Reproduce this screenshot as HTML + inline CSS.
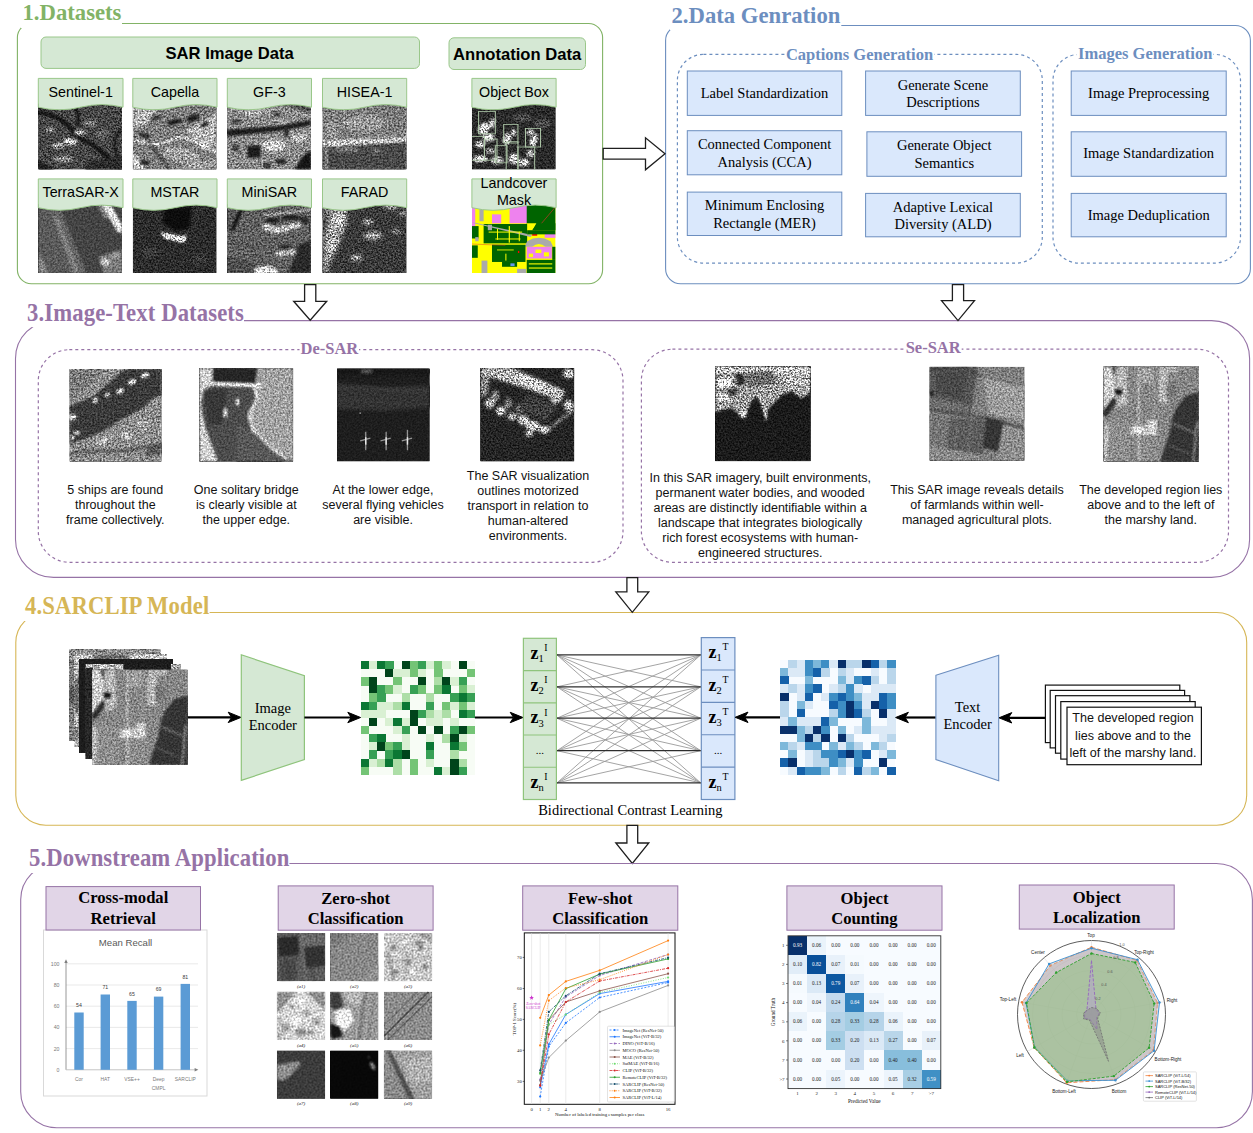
<!DOCTYPE html>
<html><head><meta charset="utf-8"><title>SARCLIP framework</title>
<style>html,body{margin:0;padding:0;background:#fff}svg{display:block}text{white-space:pre}</style>
</head><body>
<svg width="1253" height="1133" viewBox="0 0 1253 1133">
<defs>
<filter id="spk" x="0" y="0" width="1" height="1" color-interpolation-filters="sRGB">
<feTurbulence type="fractalNoise" baseFrequency="0.6" numOctaves="2" seed="7" result="t"/>
<feColorMatrix in="t" type="matrix" values="2.2 0 0 0 -0.6  2.2 0 0 0 -0.6  2.2 0 0 0 -0.6  0 0 0 0 1" result="n"/>
<feComposite operator="arithmetic" in="SourceGraphic" in2="n" k1="1.4" k2="0.3" k3="0" k4="0" result="m"/>
<feGaussianBlur in="m" stdDeviation="0.3"/>
</filter>
<filter id="spm" x="0" y="0" width="1" height="1" color-interpolation-filters="sRGB">
<feTurbulence type="fractalNoise" baseFrequency="0.55" numOctaves="2" seed="11" result="t"/>
<feColorMatrix in="t" type="matrix" values="1.9 0 0 0 -0.45  1.9 0 0 0 -0.45  1.9 0 0 0 -0.45  0 0 0 0 1" result="n"/>
<feComposite operator="arithmetic" in="SourceGraphic" in2="n" k1="1.1" k2="0.45" k3="0" k4="0" result="m"/>
<feGaussianBlur in="m" stdDeviation="0.35"/>
</filter>
<filter id="sps" x="0" y="0" width="1" height="1" color-interpolation-filters="sRGB">
<feTurbulence type="fractalNoise" baseFrequency="0.55" numOctaves="2" seed="5" result="t"/>
<feColorMatrix in="t" type="matrix" values="1.6 0 0 0 -0.3  1.6 0 0 0 -0.3  1.6 0 0 0 -0.3  0 0 0 0 1" result="n"/>
<feComposite operator="arithmetic" in="SourceGraphic" in2="n" k1="0.8" k2="0.6" k3="0" k4="0" result="m"/>
<feGaussianBlur in="m" stdDeviation="0.4"/>
</filter>
<filter id="spc" x="0" y="0" width="1" height="1" color-interpolation-filters="sRGB">
<feTurbulence type="fractalNoise" baseFrequency="0.35" numOctaves="3" seed="3" result="t"/>
<feColorMatrix in="t" type="matrix" values="2.4 0 0 0 -0.7  2.4 0 0 0 -0.7  2.4 0 0 0 -0.7  0 0 0 0 1" result="n"/>
<feComposite operator="arithmetic" in="SourceGraphic" in2="n" k1="1.4" k2="0.3" k3="0" k4="0" result="m"/>
<feGaussianBlur in="m" stdDeviation="0.3"/>
</filter>
<filter id="spz" x="0" y="0" width="1" height="1" color-interpolation-filters="sRGB">
<feTurbulence type="fractalNoise" baseFrequency="0.5" numOctaves="2" seed="9" result="t"/>
<feColorMatrix in="t" type="matrix" values="1.5 0 0 0 -0.25  1.5 0 0 0 -0.25  1.5 0 0 0 -0.25  0 0 0 0 1" result="n"/>
<feComposite operator="arithmetic" in="SourceGraphic" in2="n" k1="0.7" k2="0.65" k3="0" k4="0" result="m"/>
<feGaussianBlur in="m" stdDeviation="0.55"/>
</filter>
<clipPath id="c1"><rect x="38.3" y="103.5" width="83.7" height="65.9"/></clipPath>
<filter id="bl9" x="-0.15" y="-0.15" width="1.3" height="1.3"><feGaussianBlur stdDeviation="1.44"/></filter>
<clipPath id="c2"><rect x="132.8" y="103.5" width="83.7" height="65.9"/></clipPath>
<filter id="bl8" x="-0.15" y="-0.15" width="1.3" height="1.3"><feGaussianBlur stdDeviation="1.28"/></filter>
<clipPath id="c3"><rect x="227.3" y="103.5" width="83.7" height="65.9"/></clipPath>
<clipPath id="c4"><rect x="322.5" y="103.5" width="84" height="65.9"/></clipPath>
<clipPath id="c5"><rect x="471.9" y="103.5" width="83.7" height="65.9"/></clipPath>
<clipPath id="c6"><rect x="38.3" y="204" width="83.7" height="69"/></clipPath>
<clipPath id="c7"><rect x="132.8" y="204" width="83.7" height="69"/></clipPath>
<clipPath id="c8"><rect x="227.3" y="204" width="83.7" height="69"/></clipPath>
<clipPath id="c9"><rect x="322.5" y="204" width="84" height="69"/></clipPath>
<filter id="bl14" x="-0.15" y="-0.15" width="1.3" height="1.3"><feGaussianBlur stdDeviation="2.24"/></filter>
<clipPath id="c10"><rect x="471.9" y="204" width="83.7" height="69"/></clipPath>
<clipPath id="c11"><rect x="69.5" y="368.9" width="92.1" height="92.8"/></clipPath>
<filter id="bl7" x="-0.15" y="-0.15" width="1.3" height="1.3"><feGaussianBlur stdDeviation="1.12"/></filter>
<clipPath id="c12"><rect x="199.2" y="368" width="94" height="93.7"/></clipPath>
<clipPath id="c13"><rect x="337" y="368.4" width="92.7" height="93"/></clipPath>
<filter id="bl10" x="-0.15" y="-0.15" width="1.3" height="1.3"><feGaussianBlur stdDeviation="1.60"/></filter>
<clipPath id="c14"><rect x="480.3" y="368" width="94" height="93.4"/></clipPath>
<clipPath id="c15"><rect x="715.2" y="366.3" width="95.5" height="95"/></clipPath>
<clipPath id="c16"><rect x="929.5" y="366.8" width="95" height="94"/></clipPath>
<clipPath id="c17"><rect x="1103.3" y="366.3" width="95.7" height="95.4"/></clipPath>
<clipPath id="c18"><rect x="69" y="649" width="92" height="92"/></clipPath>
<clipPath id="c19"><rect x="74" y="654" width="93" height="93"/></clipPath>
<clipPath id="c20"><rect x="79" y="659" width="94" height="94"/></clipPath>
<clipPath id="c21"><rect x="85.5" y="664" width="95" height="95"/></clipPath>
<clipPath id="c22"><rect x="92" y="669.4" width="95.7" height="95.6"/></clipPath>
<clipPath id="c23"><rect x="276.9" y="932.9" width="48.3" height="48.3"/></clipPath>
<filter id="bl17" x="-0.15" y="-0.15" width="1.3" height="1.3"><feGaussianBlur stdDeviation="2.72"/></filter>
<clipPath id="c24"><rect x="330.1" y="932.9" width="48.3" height="48.3"/></clipPath>
<filter id="bl30" x="-0.15" y="-0.15" width="1.3" height="1.3"><feGaussianBlur stdDeviation="4.80"/></filter>
<clipPath id="c25"><rect x="383.9" y="932.9" width="48.3" height="48.3"/></clipPath>
<filter id="bl11" x="-0.15" y="-0.15" width="1.3" height="1.3"><feGaussianBlur stdDeviation="1.76"/></filter>
<clipPath id="c26"><rect x="276.9" y="991.8" width="48.3" height="48.3"/></clipPath>
<filter id="bl13" x="-0.15" y="-0.15" width="1.3" height="1.3"><feGaussianBlur stdDeviation="2.08"/></filter>
<clipPath id="c27"><rect x="330.1" y="991.8" width="48.3" height="48.3"/></clipPath>
<clipPath id="c28"><rect x="383.9" y="991.8" width="48.3" height="48.3"/></clipPath>
<clipPath id="c29"><rect x="276.9" y="1050.5" width="48.3" height="48.3"/></clipPath>
<filter id="bl12" x="-0.15" y="-0.15" width="1.3" height="1.3"><feGaussianBlur stdDeviation="1.92"/></filter>
<clipPath id="c30"><rect x="330.1" y="1050.5" width="48.3" height="48.3"/></clipPath>
<clipPath id="c31"><rect x="383.9" y="1050.5" width="48.3" height="48.3"/></clipPath>
</defs>
<rect width="1253" height="1133" fill="#fff"/>
<rect x="17.4" y="23.5" width="585.20" height="260.30" rx="14" ry="14" fill="none" stroke="#82b366" stroke-width="1.1"/>
<rect x="21.0" y="1.3999999999999986" width="101.00" height="26.60" fill="#fff"/>
<text transform="translate(22.5 20.4) scale(1 1.0)" x="0" y="0" font-family='"Liberation Serif", "Times New Roman", serif' font-size="22.7" font-weight="bold" letter-spacing="0" fill="#82b366">1.Datasets</text>
<rect x="41" y="37" width="378.50" height="31.40" rx="5" ry="5" fill="#d5e8d4" stroke="#9ac78a" stroke-width="1"/>
<text x="229.6" y="58.6" font-family='"Liberation Sans", Arial, sans-serif' font-size="16.6" font-weight="bold" fill="#000" text-anchor="middle">SAR Image Data</text>
<rect x="449" y="37.8" width="136.50" height="31.70" rx="5" ry="5" fill="#d5e8d4" stroke="#9ac78a" stroke-width="1"/>
<text x="517.1" y="59.6" font-family='"Liberation Sans", Arial, sans-serif' font-size="16.6" font-weight="bold" fill="#000" text-anchor="middle">Annotation Data</text>
<g filter="url(#spk)"><g clip-path="url(#c1)">
<rect x="38.3" y="103.5" width="83.7" height="65.9" fill="#464646"/>
<g transform="translate(38.3 103.5) scale(0.8370 0.6590)" filter="url(#bl9)">
<path d="M0,14 C18,16 30,24 40,40 S55,56 64,62 S80,80 100,100" fill="none" stroke="#080808" stroke-width="5"/>
<path d="M44,0 C46,14 50,22 46,34" fill="none" stroke="#101010" stroke-width="3.4"/>
<path d="M100,40 C88,50 90,70 96,86" fill="none" stroke="#161616" stroke-width="3"/>
<ellipse cx="38" cy="58" rx="9" ry="5" fill="#c8c8c8" transform="rotate(10 38 58)"/>
<ellipse cx="24" cy="64" rx="8" ry="4" fill="#a8a8a8"/>
<ellipse cx="50" cy="44" rx="6" ry="4" fill="#a8a8a8"/>
<ellipse cx="14" cy="40" rx="6" ry="4" fill="#8a8a8a"/>
<ellipse cx="62" cy="30" rx="8" ry="5" fill="#7c7c7c"/>
<ellipse cx="30" cy="84" rx="12" ry="5" fill="#8a8a8a"/>
<ellipse cx="76" cy="46" rx="8" ry="8" fill="#5e5e5e"/>
<polygon points="0,0 30,0 20,10 0,8" fill="#2c2c2c"/>
<polygon points="0,86 20,100 0,100" fill="#1c1c1c"/>
<polygon points="60,88 100,80 100,100 56,100" fill="#2a2a2a"/>
</g></g></g>
<g filter="url(#spm)"><g clip-path="url(#c2)">
<rect x="132.8" y="103.5" width="83.7" height="65.9" fill="#7e7e7e"/>
<g transform="translate(132.8 103.5) scale(0.8370 0.6590)" filter="url(#bl8)">
<polygon points="0,0 34,0 14,34 0,36" fill="#b4b4b4"/>
<polygon points="64,40 100,16 100,60 84,72" fill="#b8b8b8"/>
<polygon points="66,0 100,0 100,14 84,24" fill="#7a7a7a"/>
<ellipse cx="50" cy="28" rx="10" ry="4" fill="#1e1e1e" transform="rotate(-15 50 28)"/>
<ellipse cx="72" cy="22" rx="9" ry="5" fill="#242424" transform="rotate(-30 72 22)"/>
<ellipse cx="28" cy="22" rx="7" ry="3" fill="#303030" transform="rotate(-20 28 22)"/>
<ellipse cx="14" cy="48" rx="8" ry="3" fill="#2c2c2c" transform="rotate(20 14 48)"/>
<ellipse cx="86" cy="32" rx="6" ry="4" fill="#2a2a2a" transform="rotate(-30 86 32)"/>
<polyline points="0,56 30,62 60,50 100,74" fill="none" stroke="#f0f0f0" stroke-width="2.6"/>
<polyline points="14,50 44,100" fill="none" stroke="#2a2a2a" stroke-width="2.4"/>
<ellipse cx="58" cy="80" rx="22" ry="10" fill="#9e9e9e" transform="rotate(15 58 80)"/>
<path d="M38,72 C50,62 74,70 80,86" fill="none" stroke="#d8d8d8" stroke-width="1.6"/>
<polygon points="0,72 16,100 0,100" fill="#c8c8c8"/>
<ellipse cx="14" cy="90" rx="6" ry="4" fill="#222"/>
<ellipse cx="88" cy="92" rx="10" ry="5" fill="#262626"/>
<polygon points="60,92 100,84 100,100 60,100" fill="#9c9c9c"/>
</g></g></g>
<g filter="url(#spm)"><g clip-path="url(#c3)">
<rect x="227.3" y="103.5" width="83.7" height="65.9" fill="#8a8a8a"/>
<g transform="translate(227.3 103.5) scale(0.8370 0.6590)" filter="url(#bl8)">
<polygon points="0,40 60,34 100,25 100,33 60,42 0,50" fill="#1a1a1a"/>
<rect x="24" y="64" width="16" height="18" fill="#1e1e1e"/>
<rect x="58" y="84" width="12" height="8" fill="#262626"/>
<rect x="68" y="36" width="5" height="14" fill="#262626"/>
<rect x="52" y="14" width="11" height="7" fill="#2c2c2c"/>
<rect x="6" y="24" width="9" height="6" fill="#333"/>
<rect x="6" y="62" width="8" height="10" fill="#3a3a3a"/>
<rect x="44" y="90" width="8" height="8" fill="#333"/>
<ellipse cx="56" cy="64" rx="14" ry="9" fill="#d0d0d0"/>
<ellipse cx="86" cy="52" rx="10" ry="6" fill="#bdbdbd"/>
<ellipse cx="30" cy="14" rx="12" ry="6" fill="#a8a8a8"/>
<polygon points="80,100 90,80 100,70 100,100" fill="#141414"/>
<polygon points="62,0 100,0 100,14" fill="#4a4a4a"/>
<polyline points="30,0 70,30" fill="none" stroke="#c8c8c8" stroke-width="1.6"/>
</g></g></g>
<g filter="url(#spm)"><g clip-path="url(#c4)">
<rect x="322.5" y="103.5" width="84" height="65.9" fill="#7e7e7e"/>
<g transform="translate(322.5 103.5) scale(0.8400 0.6590)" filter="url(#bl9)">
<polygon points="0,62 100,56 100,100 0,100" fill="#484848"/>
<polygon points="0,56 100,51 100,58 0,66" fill="#c8c8c8"/>
<ellipse cx="50" cy="30" rx="26" ry="12" fill="#989898"/>
<ellipse cx="12" cy="40" rx="8" ry="14" fill="#949494"/>
<polygon points="0,0 100,0 100,8 0,12" fill="#747474"/>
<rect x="16" y="68" width="26" height="4" fill="#8c8c8c"/>
<rect x="60" y="70" width="8" height="4" fill="#8a8a8a"/>
<rect x="3" y="50" width="3" height="50" fill="#8a8a8a"/>
<polygon points="70,10 100,6 100,40 84,44" fill="#7a7a7a"/>
</g></g></g>
<g filter="url(#spk)"><g clip-path="url(#c5)">
<rect x="471.9" y="103.5" width="83.7" height="65.9" fill="#2a2a2a"/>
<g transform="translate(471.9 103.5) scale(0.8370 0.6590)" filter="url(#bl9)">
<ellipse cx="14" cy="38" rx="6" ry="9" fill="#e8e8e8" transform="rotate(20 14 38)"/>
<ellipse cx="20" cy="52" rx="7" ry="6" fill="#f4f4f4"/>
<ellipse cx="10" cy="62" rx="6" ry="5" fill="#d0d0d0"/>
<ellipse cx="24" cy="30" rx="4" ry="8" fill="#bdbdbd" transform="rotate(15 24 30)"/>
<ellipse cx="42" cy="54" rx="5" ry="9" fill="#d8d8d8" transform="rotate(10 42 54)"/>
<ellipse cx="50" cy="44" rx="3" ry="6" fill="#aaa"/>
<ellipse cx="74" cy="56" rx="4" ry="10" fill="#e4e4e4" transform="rotate(15 74 56)"/>
<ellipse cx="70" cy="44" rx="4" ry="5" fill="#b4b4b4"/>
<ellipse cx="10" cy="84" rx="9" ry="5" fill="#d4d4d4"/>
<ellipse cx="30" cy="86" rx="7" ry="6" fill="#c4c4c4"/>
<ellipse cx="50" cy="84" rx="6" ry="8" fill="#d0d0d0"/>
<ellipse cx="62" cy="90" rx="7" ry="6" fill="#c8c8c8"/>
<ellipse cx="70" cy="76" rx="5" ry="6" fill="#b0b0b0"/>
<ellipse cx="22" cy="72" rx="6" ry="4" fill="#a0a0a0"/>
<ellipse cx="84" cy="30" rx="10" ry="8" fill="#4a4a4a"/>
<ellipse cx="60" cy="22" rx="12" ry="6" fill="#484848"/>
</g></g></g>
<g clip-path="url(#c5)"><g transform="translate(471.9 103.5) scale(0.8370 0.6590)">
<g fill="none" stroke="#aec8a8" stroke-width="1.2"><rect x="8" y="12" width="20" height="34"/><rect x="38" y="32" width="17" height="28"/><rect x="64" y="38" width="18" height="28"/><rect x="15" y="54" width="15" height="32"/><rect x="41" y="58" width="14" height="42"/><rect x="55" y="66" width="20" height="36"/><rect x="-2" y="50" width="17" height="36"/><rect x="28" y="64" width="14" height="26"/></g>
</g></g>
<path d="M38.3 78.4 L123 78.4 L123 107.2 Q101.825 102.0 80.65 107.2 Q59.474999999999994 112.4 38.3 107.2 Z" fill="#d5e8d4" stroke="#9ac78a" stroke-width="1"/>
<text x="80.65" y="96.9" font-family='"Liberation Sans", Arial, sans-serif' font-size="14.3" font-weight="normal" fill="#000" text-anchor="middle">Sentinel-1</text>
<path d="M132.8 78.4 L217 78.4 L217 107.2 Q195.95 102.0 174.9 107.2 Q153.85000000000002 112.4 132.8 107.2 Z" fill="#d5e8d4" stroke="#9ac78a" stroke-width="1"/>
<text x="174.9" y="96.9" font-family='"Liberation Sans", Arial, sans-serif' font-size="14.3" font-weight="normal" fill="#000" text-anchor="middle">Capella</text>
<path d="M227.3 78.4 L311.5 78.4 L311.5 107.2 Q290.45 102.0 269.4 107.2 Q248.35000000000002 112.4 227.3 107.2 Z" fill="#d5e8d4" stroke="#9ac78a" stroke-width="1"/>
<text x="269.4" y="96.9" font-family='"Liberation Sans", Arial, sans-serif' font-size="14.3" font-weight="normal" fill="#000" text-anchor="middle">GF-3</text>
<path d="M322.5 78.4 L406.7 78.4 L406.7 107.2 Q385.65 102.0 364.6 107.2 Q343.55 112.4 322.5 107.2 Z" fill="#d5e8d4" stroke="#9ac78a" stroke-width="1"/>
<text x="364.6" y="96.9" font-family='"Liberation Sans", Arial, sans-serif' font-size="14.3" font-weight="normal" fill="#000" text-anchor="middle">HISEA-1</text>
<path d="M471.9 78.4 L556.1 78.4 L556.1 107.2 Q535.05 102.0 514.0 107.2 Q492.95 112.4 471.9 107.2 Z" fill="#d5e8d4" stroke="#9ac78a" stroke-width="1"/>
<text x="514.0" y="96.9" font-family='"Liberation Sans", Arial, sans-serif' font-size="14.3" font-weight="normal" fill="#000" text-anchor="middle">Object Box</text>
<g filter="url(#sps)"><g clip-path="url(#c6)">
<rect x="38.3" y="204" width="83.7" height="69" fill="#444444"/>
<g transform="translate(38.3 204) scale(0.8370 0.6900)" filter="url(#bl8)">
<polygon points="0,0 14,0 40,100 0,100" fill="#5a5a5a"/>
<polygon points="14,0 24,0 58,100 40,100" fill="#646464"/>
<polygon points="17,18 23,18 50,100 42,100" fill="#7e7e7e"/>
<polygon points="0,70 12,100 0,100" fill="#8a8a8a"/>
<polygon points="76,0 86,0 100,30 100,42 94,40" fill="#e8e8e8"/>
<polygon points="70,0 76,0 84,20 80,22" fill="#8a8a8a"/>
<polygon points="72,76 100,66 100,100 78,100" fill="#7c7c7c"/>
<ellipse cx="80" cy="84" rx="6" ry="5" fill="#c4c4c4"/>
<ellipse cx="92" cy="74" rx="5" ry="4" fill="#9a9a9a"/>
</g></g></g>
<g filter="url(#spk)"><g clip-path="url(#c7)">
<rect x="132.8" y="204" width="83.7" height="69" fill="#2c2c2c"/>
<g transform="translate(132.8 204) scale(0.8370 0.6900)" filter="url(#bl9)">
<polygon points="38,6 70,4 68,34 52,40 36,28" fill="#0a0a0a"/>
<polygon points="33,41 60,47 64,44 62,56 38,50" fill="#ffffff"/>
<ellipse cx="20" cy="70" rx="10" ry="8" fill="#3a3a3a"/>
<ellipse cx="80" cy="80" rx="10" ry="8" fill="#383838"/>
</g></g></g>
<g filter="url(#spm)"><g clip-path="url(#c8)">
<rect x="227.3" y="204" width="83.7" height="69" fill="#606060"/>
<g transform="translate(227.3 204) scale(0.8370 0.6900)" filter="url(#bl8)">
<polygon points="16,0 22,0 8,40 3,38" fill="#161616"/>
<polygon points="0,0 16,0 3,38 0,40" fill="#565656"/>
<ellipse cx="48" cy="34" rx="6" ry="5" fill="#c8c8c8"/>
<ellipse cx="58" cy="38" rx="6" ry="5" fill="#cecece"/>
<ellipse cx="68" cy="36" rx="6" ry="5" fill="#c8c8c8"/>
<ellipse cx="78" cy="32" rx="6" ry="5" fill="#c4c4c4"/>
<ellipse cx="86" cy="30" rx="5" ry="4" fill="#bbb"/>
<ellipse cx="54" cy="24" rx="9" ry="4" fill="#202020"/>
<ellipse cx="76" cy="20" rx="12" ry="4" fill="#242424"/>
<ellipse cx="92" cy="24" rx="6" ry="6" fill="#2a2a2a"/>
<polyline points="44,16 100,8" fill="none" stroke="#d4d4d4" stroke-width="1.8"/>
<ellipse cx="64" cy="72" rx="6" ry="5" fill="#b8b8b8"/>
<ellipse cx="76" cy="70" rx="6" ry="5" fill="#b4b4b4"/>
<ellipse cx="70" cy="62" rx="8" ry="3.4" fill="#262626"/>
<ellipse cx="46" cy="98" rx="14" ry="8" fill="#e6e6e6"/>
<polygon points="84,60 100,52 100,100 72,100 80,80" fill="#2a2a2a"/>
<polygon points="0,76 34,86 30,100 0,100" fill="#4e4e4e"/>
<polyline points="0,56 40,64" fill="none" stroke="#4a4a4a" stroke-width="1.6"/>
</g></g></g>
<g filter="url(#spk)"><g clip-path="url(#c9)">
<rect x="322.5" y="204" width="84" height="69" fill="#3a3a3a"/>
<g transform="translate(322.5 204) scale(0.8400 0.6900)" filter="url(#bl14)">
<polygon points="10,8 30,2 28,30 20,56 10,84 0,88 2,46" fill="#9c9c9c"/>
<ellipse cx="20" cy="24" rx="6" ry="10" fill="#d0d0d0" transform="rotate(15 20 24)"/>
<ellipse cx="12" cy="60" rx="5" ry="10" fill="#c0c0c0" transform="rotate(15 12 60)"/>
<polygon points="0,0 10,0 6,20 0,24" fill="#6a6a6a"/>
<ellipse cx="54" cy="26" rx="5" ry="4" fill="#b8b8b8"/>
<ellipse cx="60" cy="46" rx="11" ry="6" fill="#a0a0a0"/>
<ellipse cx="40" cy="78" rx="7" ry="5" fill="#9c9c9c"/>
<ellipse cx="88" cy="40" rx="5" ry="3.6" fill="#909090"/>
<ellipse cx="82" cy="4" rx="8" ry="4" fill="#a8a8a8"/>
<ellipse cx="96" cy="14" rx="4" ry="4" fill="#999"/>
<polygon points="0,88 10,84 6,100 0,100" fill="#8c8c8c"/>
</g></g></g>
<g><g clip-path="url(#c10)">
<rect x="471.9" y="204" width="83.7" height="69" fill="#ffff00"/>
<g transform="translate(471.9 204) scale(0.8370 0.6900)">
<rect x="0" y="0" width="4" height="40" fill="#ee82ee"/>
<rect x="9" y="3" width="5" height="22" fill="#aaaaaa"/>
<rect x="24" y="15" width="11" height="13" fill="#ee82ee"/>
<rect x="45" y="0" width="21" height="28" fill="#ee82ee"/>
<rect x="65.5" y="0" width="34.5" height="38" fill="#006400"/>
<polygon points="65.5,28 77,28 70,44 65.5,44" fill="#ffff00"/>
<rect x="14" y="29" width="52" height="28" fill="#006400"/>
<rect x="0" y="32" width="8" height="18" fill="#006400"/>
<rect x="4" y="48" width="4" height="6" fill="#aaaaaa"/>
<rect x="19" y="30" width="5" height="8" fill="#aaaaaa"/>
<polygon points="0,27 4,27 72,45 70,48" fill="#aaaaaa"/>
<polyline points="100,4 72,44" fill="none" stroke="#e03030" stroke-width="0.8"/>
<rect x="72" y="43" width="6" height="3" fill="#ff0000"/>
<rect x="87" y="43" width="13" height="6" fill="#ee82ee"/>
<rect x="66" y="38" width="34" height="6" fill="#006400"/>
<polygon points="78,28 100,28 100,38 72,38" fill="#006400"/>
<path d="M63,62 L66,54 Q80,44 94,54 L97,62 L88,62 Q80,54 72,62 Z" fill="#aaaaaa" stroke="none" stroke-width="0"/>
<rect x="0" y="60" width="7" height="18" fill="#006400"/>
<rect x="24" y="59" width="40" height="25" fill="#006400"/>
<rect x="36" y="84" width="18" height="7" fill="#006400"/>
<rect x="65.5" y="62" width="30" height="17" fill="#ee82ee"/>
<rect x="76" y="66" width="7" height="5" fill="#ffff00"/>
<rect x="86" y="70" width="6" height="6" fill="#ffff00"/>
<rect x="68" y="72" width="5" height="5" fill="#ffff00"/>
<rect x="65.5" y="81" width="34.5" height="19" fill="#006400"/>
<rect x="68" y="86" width="28" height="1.6" fill="#ffff00"/>
<rect x="68" y="92" width="28" height="1.6" fill="#ffff00"/>
<rect x="96" y="62" width="4" height="19" fill="#006400"/>
<rect x="11.5" y="82" width="7" height="18" fill="#aaaaaa"/>
<rect x="54" y="94" width="11" height="6" fill="#aaaaaa"/>
<rect x="46" y="86" width="5" height="4" fill="#6495ed"/>
<rect x="55" y="68" width="1.6" height="3" fill="#ff0000"/>
<polyline points="0,58 40,60" fill="none" stroke="#e03030" stroke-width="0.6"/>
<rect x="20" y="40" width="40" height="1.4" fill="#ffff00"/>
<rect x="28" y="50" width="30" height="1.4" fill="#ffff00"/>
<rect x="44" y="32" width="1.4" height="24" fill="#ffff00"/>
<rect x="30" y="36" width="1.2" height="16" fill="#ffff00"/>
<rect x="56" y="40" width="1.2" height="14" fill="#ffff00"/>
<rect x="30" y="66" width="20" height="1.2" fill="#ffff00"/>
<rect x="40" y="72" width="1.2" height="10" fill="#ffff00"/>
</g></g></g>
<path d="M38.3 178.9 L123 178.9 L123 207.70000000000002 Q101.825 202.50000000000003 80.65 207.70000000000002 Q59.474999999999994 212.9 38.3 207.70000000000002 Z" fill="#d5e8d4" stroke="#9ac78a" stroke-width="1"/>
<text x="80.65" y="197.4" font-family='"Liberation Sans", Arial, sans-serif' font-size="14.3" font-weight="normal" fill="#000" text-anchor="middle">TerraSAR-X</text>
<path d="M132.8 178.9 L217 178.9 L217 207.70000000000002 Q195.95 202.50000000000003 174.9 207.70000000000002 Q153.85000000000002 212.9 132.8 207.70000000000002 Z" fill="#d5e8d4" stroke="#9ac78a" stroke-width="1"/>
<text x="174.9" y="197.4" font-family='"Liberation Sans", Arial, sans-serif' font-size="14.3" font-weight="normal" fill="#000" text-anchor="middle">MSTAR</text>
<path d="M227.3 178.9 L311.5 178.9 L311.5 207.70000000000002 Q290.45 202.50000000000003 269.4 207.70000000000002 Q248.35000000000002 212.9 227.3 207.70000000000002 Z" fill="#d5e8d4" stroke="#9ac78a" stroke-width="1"/>
<text x="269.4" y="197.4" font-family='"Liberation Sans", Arial, sans-serif' font-size="14.3" font-weight="normal" fill="#000" text-anchor="middle">MiniSAR</text>
<path d="M322.5 178.9 L406.7 178.9 L406.7 207.70000000000002 Q385.65 202.50000000000003 364.6 207.70000000000002 Q343.55 212.9 322.5 207.70000000000002 Z" fill="#d5e8d4" stroke="#9ac78a" stroke-width="1"/>
<text x="364.6" y="197.4" font-family='"Liberation Sans", Arial, sans-serif' font-size="14.3" font-weight="normal" fill="#000" text-anchor="middle">FARAD</text>
<path d="M471.9 178.9 L556.1 178.9 L556.1 207.70000000000002 Q535.05 202.50000000000003 514.0 207.70000000000002 Q492.95 212.9 471.9 207.70000000000002 Z" fill="#d5e8d4" stroke="#9ac78a" stroke-width="1"/>
<text x="514.0" y="188.1" font-family='"Liberation Sans", Arial, sans-serif' font-size="14.3" font-weight="normal" fill="#000" text-anchor="middle">Landcover</text>
<text x="514.0" y="205.4" font-family='"Liberation Sans", Arial, sans-serif' font-size="14.3" font-weight="normal" fill="#000" text-anchor="middle">Mask</text>
<rect x="665.6" y="25.5" width="584.80" height="258.30" rx="15" ry="15" fill="none" stroke="#6c8ebf" stroke-width="1.1"/>
<rect x="670.0" y="4" width="171.30" height="26.00" fill="#fff"/>
<text transform="translate(671.5 23) scale(1 1.0)" x="0" y="0" font-family='"Liberation Serif", "Times New Roman", serif' font-size="22.7" font-weight="bold" letter-spacing="0" fill="#6c8ebf">2.Data Genration</text>
<rect x="677.4" y="54.4" width="364.90" height="208.70" rx="26" ry="26" fill="none" stroke="#6c8ebf" stroke-width="1.2" stroke-dasharray="3 3"/>
<rect x="1053" y="54.4" width="187.50" height="208.70" rx="26" ry="26" fill="none" stroke="#6c8ebf" stroke-width="1.2" stroke-dasharray="3 3"/>
<rect x="785" y="46" width="149" height="16" fill="#fff"/>
<text x="859.5" y="60" font-family='"Liberation Serif", "Times New Roman", serif' font-size="16.5" font-weight="bold" fill="#6c8ebf" text-anchor="middle">Captions Generation</text>
<rect x="1076.5" y="46" width="137" height="16" fill="#fff"/>
<text x="1145.2" y="58.8" font-family='"Liberation Serif", "Times New Roman", serif' font-size="16.5" font-weight="bold" fill="#6c8ebf" text-anchor="middle">Images Generation</text>
<rect x="687.3" y="71" width="154.50" height="44.40" fill="#dae8fc" stroke="#6c8ebf" stroke-width="1"/>
<text x="764.55" y="97.60000000000001" font-family='"Liberation Serif", "Times New Roman", serif' font-size="14.5" font-weight="normal" fill="#000" text-anchor="middle">Label Standardization</text>
<rect x="687.3" y="130.7" width="154.50" height="44.10" fill="#dae8fc" stroke="#6c8ebf" stroke-width="1"/>
<text x="764.55" y="149.15" font-family='"Liberation Serif", "Times New Roman", serif' font-size="14.5" font-weight="normal" fill="#000" text-anchor="middle">Connected Component</text>
<text x="764.55" y="166.55" font-family='"Liberation Serif", "Times New Roman", serif' font-size="14.5" font-weight="normal" fill="#000" text-anchor="middle">Analysis (CCA)</text>
<rect x="687.3" y="192.1" width="154.50" height="43.40" fill="#dae8fc" stroke="#6c8ebf" stroke-width="1"/>
<text x="764.55" y="210.20000000000002" font-family='"Liberation Serif", "Times New Roman", serif' font-size="14.5" font-weight="normal" fill="#000" text-anchor="middle">Minimum Enclosing</text>
<text x="764.55" y="227.60000000000002" font-family='"Liberation Serif", "Times New Roman", serif' font-size="14.5" font-weight="normal" fill="#000" text-anchor="middle">Rectangle (MER)</text>
<rect x="865.6" y="71" width="154.70" height="44.40" fill="#dae8fc" stroke="#6c8ebf" stroke-width="1"/>
<text x="942.95" y="89.60000000000001" font-family='"Liberation Serif", "Times New Roman", serif' font-size="14.5" font-weight="normal" fill="#000" text-anchor="middle">Generate Scene</text>
<text x="942.95" y="107.0" font-family='"Liberation Serif", "Times New Roman", serif' font-size="14.5" font-weight="normal" fill="#000" text-anchor="middle">Descriptions</text>
<rect x="866.9" y="131.8" width="154.70" height="44.50" fill="#dae8fc" stroke="#6c8ebf" stroke-width="1"/>
<text x="944.25" y="150.45000000000002" font-family='"Liberation Serif", "Times New Roman", serif' font-size="14.5" font-weight="normal" fill="#000" text-anchor="middle">Generate Object</text>
<text x="944.25" y="167.85000000000002" font-family='"Liberation Serif", "Times New Roman", serif' font-size="14.5" font-weight="normal" fill="#000" text-anchor="middle">Semantics</text>
<rect x="865.6" y="193.4" width="154.70" height="43.40" fill="#dae8fc" stroke="#6c8ebf" stroke-width="1"/>
<text x="942.95" y="211.50000000000003" font-family='"Liberation Serif", "Times New Roman", serif' font-size="14.5" font-weight="normal" fill="#000" text-anchor="middle">Adaptive Lexical</text>
<text x="942.95" y="228.90000000000003" font-family='"Liberation Serif", "Times New Roman", serif' font-size="14.5" font-weight="normal" fill="#000" text-anchor="middle">Diversity (ALD)</text>
<rect x="1071.2" y="71" width="155.00" height="44.40" fill="#dae8fc" stroke="#6c8ebf" stroke-width="1"/>
<text x="1148.7" y="97.60000000000001" font-family='"Liberation Serif", "Times New Roman", serif' font-size="14.5" font-weight="normal" fill="#000" text-anchor="middle">Image Preprocessing</text>
<rect x="1071.2" y="131.8" width="155.00" height="44.50" fill="#dae8fc" stroke="#6c8ebf" stroke-width="1"/>
<text x="1148.7" y="158.45000000000002" font-family='"Liberation Serif", "Times New Roman", serif' font-size="14.5" font-weight="normal" fill="#000" text-anchor="middle">Image Standardization</text>
<rect x="1071.2" y="193.4" width="155.00" height="43.40" fill="#dae8fc" stroke="#6c8ebf" stroke-width="1"/>
<text x="1148.7" y="219.50000000000003" font-family='"Liberation Serif", "Times New Roman", serif' font-size="14.5" font-weight="normal" fill="#000" text-anchor="middle">Image Deduplication</text>
<path d="M603.2 148.4 L645.5 148.4 L645.5 137.8 L665 153.8 L645.5 169.8 L645.5 159.20000000000002 L603.2 159.20000000000002 Z" fill="#fff" stroke="#1e1e1e" stroke-width="1.3" stroke-linejoin="miter"/>
<rect x="15.5" y="320.6" width="1234.10" height="256.80" rx="38" ry="38" fill="none" stroke="#9673a6" stroke-width="1.1"/>
<rect x="25.6" y="301.7" width="218.40" height="25.40" fill="#fff"/>
<text transform="translate(27.1 320.7) scale(1 1.09)" x="0" y="0" font-family='"Liberation Serif", "Times New Roman", serif' font-size="22.7" font-weight="bold" letter-spacing="0.1" fill="#9673a6">3.Image-Text Datasets</text>
<rect x="38.3" y="349.7" width="584.70" height="212.60" rx="31" ry="31" fill="none" stroke="#9673a6" stroke-width="1.2" stroke-dasharray="3 3"/>
<rect x="641.4" y="349.2" width="587.10" height="213.10" rx="31" ry="31" fill="none" stroke="#9673a6" stroke-width="1.2" stroke-dasharray="3 3"/>
<rect x="299.5" y="340" width="59.5" height="16" fill="#fff"/>
<text x="300.5" y="353.5" font-family='"Liberation Serif", "Times New Roman", serif' font-size="16.5" font-weight="bold" fill="#9673a6" text-anchor="start">De-SAR</text>
<rect x="904.7" y="340" width="57" height="16" fill="#fff"/>
<text x="905.7" y="353.2" font-family='"Liberation Serif", "Times New Roman", serif' font-size="16.5" font-weight="bold" fill="#9673a6" text-anchor="start">Se-SAR</text>
<g filter="url(#spm)"><g clip-path="url(#c11)">
<rect x="69.5" y="368.9" width="92.1" height="92.8" fill="#8c8c8c"/>
<g transform="translate(69.5 368.9) scale(0.9210 0.9280)" filter="url(#bl7)">
<polygon points="0,40 25,30 44,14 58,2 62,0 100,0 100,28 90,32 80,42 55,55 35,68 10,78 0,80" fill="#3a3a3a"/>
<polygon points="0,0 40,0 20,20 0,32" fill="#7c7c7c"/>
<ellipse cx="82" cy="7" rx="4" ry="2" fill="#ffffff" transform="rotate(-25 82 7)"/>
<ellipse cx="68" cy="14" rx="4" ry="2" fill="#ffffff" transform="rotate(-25 68 14)"/>
<ellipse cx="55" cy="24" rx="3.5" ry="2" fill="#fff" transform="rotate(-25 55 24)"/>
<ellipse cx="41" cy="28" rx="2.5" ry="1.6" fill="#f4f4f4" transform="rotate(-25 41 28)"/>
<ellipse cx="28" cy="34" rx="2.2" ry="2.6" fill="#eee" transform="rotate(-25 28 34)"/>
<ellipse cx="3" cy="52" rx="4" ry="2.5" fill="#f0f0f0"/>
<ellipse cx="8" cy="69" rx="3" ry="1.6" fill="#eee"/>
<ellipse cx="3" cy="74" rx="2" ry="2" fill="#ddd"/>
<path d="M0,92 C20,86 40,90 60,88 S90,82 100,80" fill="none" stroke="#505050" stroke-width="2.6"/>
<ellipse cx="36" cy="78" rx="7" ry="2.4" fill="#dcdcdc" transform="rotate(-25 36 78)"/>
<ellipse cx="62" cy="72" rx="6" ry="4" fill="#c4c4c4"/>
<ellipse cx="80" cy="60" rx="8" ry="6" fill="#a4a4a4"/>
<polygon points="86,84 100,80 100,92 80,94" fill="#5a5a5a"/>
</g></g></g>
<g filter="url(#sps)"><g clip-path="url(#c12)">
<rect x="199.2" y="368" width="94" height="93.7" fill="#4c4c4c"/>
<g transform="translate(199.2 368) scale(0.9400 0.9370)" filter="url(#bl7)">
<polygon points="0,0 16,0 14,18 4,24 2,40 6,62 20,100 0,100" fill="#cfcfcf"/>
<polygon points="14,0 62,0 60,17 14,16" fill="#262626"/>
<polygon points="4,24 30,22 24,60 10,60" fill="#383838"/>
<polygon points="62,0 100,0 100,100 96,98 76,82 60,66 55,50 64,32 60,18" fill="#a2a2a2"/>
<polygon points="60,18 64,32 55,50 60,66 76,82 96,98 92,98 72,84 56,68 51,50 60,32 56,18" fill="#dadada"/>
<polyline points="12,17 66,19" fill="none" stroke="#f4f4f4" stroke-width="3.6"/>
<ellipse cx="41" cy="36" rx="1.5" ry="4.2" fill="#ffffff"/>
<ellipse cx="28" cy="48" rx="1.5" ry="5" fill="#ffffff"/>
<polygon points="40,60 60,70 80,90 90,100 40,100" fill="#585858"/>
</g></g></g>
<g filter="url(#sps)"><g clip-path="url(#c13)">
<rect x="337" y="368.4" width="92.7" height="93" fill="#1e1e1e"/>
<g transform="translate(337 368.4) scale(0.9270 0.9300)" filter="url(#bl10)">
<polygon points="0,16 50,20 100,18 100,42 50,46 0,44" fill="#303030"/>
<path d="M0,22 C40,16 70,28 100,24" fill="none" stroke="#3c3c3c" stroke-width="2.4"/>
<path d="M0,36 C40,30 70,42 100,38" fill="none" stroke="#383838" stroke-width="2.4"/>
<polygon points="0,0 100,0 100,6 0,8" fill="#161616"/>
<ellipse cx="32" cy="3" rx="6" ry="1.6" fill="#666"/>
</g></g></g>
<g clip-path="url(#c13)"><g transform="translate(337 368.4) scale(0.9270 0.9300)">
<g stroke="#bdbdbd" stroke-width="1.4" fill="none" opacity="0.75"><path d="M31,68 L31,88 M25,78 L36,75"/><path d="M53,68 L53,88 M47,78 L58,75"/><path d="M76,66 L76,88 M70,78 L81,75"/></g>
<g stroke="#f0f0f0" stroke-width="1.6" fill="none" opacity="0.9"><path d="M31,74 L31,82"/><path d="M53,74 L53,82"/><path d="M76,74 L76,82"/></g>
<circle cx="25" cy="48" r="0.9" fill="#999"/>
</g></g>
<g filter="url(#spk)"><g clip-path="url(#c14)">
<rect x="480.3" y="368" width="94" height="93.4" fill="#252525"/>
<g transform="translate(480.3 368) scale(0.9400 0.9340)" filter="url(#bl9)">
<polygon points="2,0 34,0 90,24 86,36 48,22 0,6" fill="#b4b4b4"/>
<polygon points="40,6 70,16 66,24 38,14" fill="#d8d8d8"/>
<polygon points="0,6 10,10 8,28 0,32" fill="#8a8a8a"/>
<ellipse cx="10" cy="38" rx="5" ry="5" fill="#c8c8c8"/>
<ellipse cx="22" cy="46" rx="5" ry="5" fill="#cfcfcf"/>
<ellipse cx="34" cy="52" rx="5" ry="4" fill="#b8b8b8"/>
<ellipse cx="46" cy="56" rx="6" ry="5" fill="#d0d0d0"/>
<ellipse cx="56" cy="62" rx="7" ry="5" fill="#e4e4e4"/>
<ellipse cx="68" cy="66" rx="6" ry="4" fill="#d8d8d8"/>
<ellipse cx="52" cy="70" rx="4" ry="3" fill="#ccc"/>
<ellipse cx="16" cy="30" rx="4" ry="6" fill="#8a8a8a"/>
<ellipse cx="30" cy="38" rx="4" ry="6" fill="#7a7a7a"/>
<ellipse cx="42" cy="44" rx="4" ry="6" fill="#777"/>
<polyline points="72,66 100,44" fill="none" stroke="#9a9a9a" stroke-width="2.4"/>
<ellipse cx="94" cy="40" rx="5" ry="6" fill="#c4c4c4"/>
<ellipse cx="94" cy="6" rx="6" ry="5" fill="#c8c8c8"/>
<ellipse cx="80" cy="34" rx="5" ry="4" fill="#aaa"/>
<polygon points="50,28 84,40 70,58 40,44" fill="#3c3c3c"/>
</g></g></g>
<g filter="url(#spk)"><g clip-path="url(#c15)">
<rect x="715.2" y="366.3" width="95.5" height="95" fill="#1b1b1b"/>
<g transform="translate(715.2 366.3) scale(0.9550 0.9500)" filter="url(#bl8)">
<polygon points="0,0 100,0 100,28 90,34 80,26 70,30 62,38 56,44 53,58 49,40 44,32 38,36 34,46 29,56 24,50 18,44 8,46 0,48" fill="#9c9c9c"/>
<polygon points="0,0 100,0 100,8 0,6" fill="#d0d0d0"/>
<polygon points="30,6 60,4 64,18 34,22" fill="#6a6a6a"/>
<polygon points="70,10 100,6 100,22 76,24" fill="#b8b8b8"/>
<rect x="3" y="13" width="14" height="9" fill="#ffffff"/>
<rect x="3" y="30" width="12" height="6" fill="#f0f0f0"/>
<polygon points="20,8 28,6 32,18 24,22" fill="#2c2c2c"/>
<polygon points="12,24 22,22 24,30 14,32" fill="#3c3c3c"/>
<polyline points="46,30 54,56" fill="none" stroke="#e0e0e0" stroke-width="1.6"/>
<ellipse cx="30" cy="50" rx="3" ry="4" fill="#ddd"/>
</g></g></g>
<g filter="url(#sps)"><g clip-path="url(#c16)">
<rect x="929.5" y="366.8" width="95" height="94" fill="#7e7e7e"/>
<g transform="translate(929.5 366.8) scale(0.9500 0.9400)" filter="url(#bl8)">
<polygon points="0,0 50,0 44,42 0,32" fill="#565656"/>
<polygon points="6,6 40,4 36,36 8,28" fill="#4a4a4a"/>
<polygon points="56,8 100,18 100,58 62,50" fill="#9c9c9c"/>
<polygon points="0,32 44,42 40,56 0,46" fill="#6c6c6c"/>
<polyline points="0,3 40,0" fill="none" stroke="#262626" stroke-width="1.8"/>
<polyline points="40,2 56,10 100,20" fill="none" stroke="#404040" stroke-width="1.4"/>
<polyline points="50,0 42,50" fill="none" stroke="#4a4a4a" stroke-width="1.6"/>
<polygon points="22,54 60,56 56,94 18,88" fill="#5c5c5c"/>
<polygon points="60,54 78,58 72,90 56,86" fill="#343434"/>
<polyline points="0,46 60,54 100,66" fill="none" stroke="#383838" stroke-width="1.6"/>
<polygon points="0,50 22,54 18,88 0,84" fill="#747474"/>
<polygon points="0,84 56,94 56,100 0,100" fill="#8a8a8a"/>
<polygon points="78,62 100,68 100,100 72,100" fill="#8e8e8e"/>
<circle cx="2" cy="28" r="2.4" fill="#0c0c0c"/>
<polyline points="30,56 26,90" fill="none" stroke="#7a7a7a" stroke-width="1.2"/>
<polyline points="44,56 40,92" fill="none" stroke="#7a7a7a" stroke-width="1.2"/>
</g></g></g>
<g filter="url(#sps)"><g clip-path="url(#c17)">
<rect x="1103.3" y="366.3" width="95.7" height="95.4" fill="#868686"/>
<g transform="translate(1103.3 366.3) scale(0.9570 0.9540)" filter="url(#bl7)">
<polygon points="0,0 12,0 12,40 0,46" fill="#d0d0d0"/>
<polygon points="0,46 10,32 15,36 4,52 0,52" fill="#2e2e2e"/>
<polygon points="8,0 14,0 14,10 10,8" fill="#4a4a4a"/>
<polygon points="13,2 24,0 26,40 14,44" fill="#b8b8b8"/>
<ellipse cx="16" cy="27" rx="4.5" ry="3.6" fill="#161616"/>
<polygon points="76,44 86,31 100,27 100,100 60,100 61,94 69,71 72,54" fill="#343434"/>
<polyline points="72,60 96,70" fill="none" stroke="#8c8c8c" stroke-width="1.2"/>
<polyline points="98,58 94,100" fill="none" stroke="#a4a4a4" stroke-width="1.2"/>
<polyline points="68,82 90,92" fill="none" stroke="#6a6a6a" stroke-width="1"/>
<polyline points="37,0 37,100" fill="none" stroke="#e4e4e4" stroke-width="1.2"/>
<polyline points="53,0 53,60" fill="none" stroke="#a8a8a8" stroke-width="1"/>
<rect x="40" y="2" width="11" height="16" fill="#a4a4a4"/>
<rect x="58" y="4" width="9" height="34" fill="#b8b8b8"/>
<rect x="60" y="0" width="18" height="6" fill="#b0b0b0"/>
<rect x="22" y="62" width="34" height="10" fill="#c8c8c8"/>
<rect x="34" y="64" width="5" height="5" fill="#ffffff"/>
<rect x="46" y="56" width="10" height="16" fill="#cfcfcf"/>
<polygon points="0,56 30,60 26,100 0,100" fill="#8e8e8e"/>
<polygon points="0,60 6,62 4,100 0,100" fill="#bcbcbc"/>
<rect x="66" y="18" width="10" height="14" fill="#747474"/>
<polygon points="38,74 60,74 58,100 38,100" fill="#8c8c8c"/>
</g></g></g>
<text x="115.3" y="494.4" font-family='"Liberation Sans", Arial, sans-serif' font-size="12.5" font-weight="normal" fill="#111" text-anchor="middle">5 ships are found</text>
<text x="115.3" y="509.4" font-family='"Liberation Sans", Arial, sans-serif' font-size="12.5" font-weight="normal" fill="#111" text-anchor="middle">throughout the</text>
<text x="115.3" y="524.4" font-family='"Liberation Sans", Arial, sans-serif' font-size="12.5" font-weight="normal" fill="#111" text-anchor="middle">frame collectively.</text>
<text x="246.3" y="494.4" font-family='"Liberation Sans", Arial, sans-serif' font-size="12.5" font-weight="normal" fill="#111" text-anchor="middle">One solitary bridge</text>
<text x="246.3" y="509.4" font-family='"Liberation Sans", Arial, sans-serif' font-size="12.5" font-weight="normal" fill="#111" text-anchor="middle">is clearly visible at</text>
<text x="246.3" y="524.4" font-family='"Liberation Sans", Arial, sans-serif' font-size="12.5" font-weight="normal" fill="#111" text-anchor="middle">the upper edge.</text>
<text x="383" y="494.4" font-family='"Liberation Sans", Arial, sans-serif' font-size="12.5" font-weight="normal" fill="#111" text-anchor="middle">At the lower edge,</text>
<text x="383" y="509.4" font-family='"Liberation Sans", Arial, sans-serif' font-size="12.5" font-weight="normal" fill="#111" text-anchor="middle">several flying vehicles</text>
<text x="383" y="524.4" font-family='"Liberation Sans", Arial, sans-serif' font-size="12.5" font-weight="normal" fill="#111" text-anchor="middle">are visible.</text>
<text x="528" y="479.6" font-family='"Liberation Sans", Arial, sans-serif' font-size="12.5" font-weight="normal" fill="#111" text-anchor="middle">The SAR visualization</text>
<text x="528" y="494.6" font-family='"Liberation Sans", Arial, sans-serif' font-size="12.5" font-weight="normal" fill="#111" text-anchor="middle">outlines motorized</text>
<text x="528" y="509.6" font-family='"Liberation Sans", Arial, sans-serif' font-size="12.5" font-weight="normal" fill="#111" text-anchor="middle">transport in relation to</text>
<text x="528" y="524.6" font-family='"Liberation Sans", Arial, sans-serif' font-size="12.5" font-weight="normal" fill="#111" text-anchor="middle">human-altered</text>
<text x="528" y="539.6" font-family='"Liberation Sans", Arial, sans-serif' font-size="12.5" font-weight="normal" fill="#111" text-anchor="middle">environments.</text>
<text x="760.2" y="482.3" font-family='"Liberation Sans", Arial, sans-serif' font-size="12.5" font-weight="normal" fill="#111" text-anchor="middle">In this SAR imagery, built environments,</text>
<text x="760.2" y="497.15000000000003" font-family='"Liberation Sans", Arial, sans-serif' font-size="12.5" font-weight="normal" fill="#111" text-anchor="middle">permanent water bodies, and wooded</text>
<text x="760.2" y="512.0" font-family='"Liberation Sans", Arial, sans-serif' font-size="12.5" font-weight="normal" fill="#111" text-anchor="middle">areas are distinctly identifiable within a</text>
<text x="760.2" y="526.85" font-family='"Liberation Sans", Arial, sans-serif' font-size="12.5" font-weight="normal" fill="#111" text-anchor="middle">landscape that integrates biologically</text>
<text x="760.2" y="541.7" font-family='"Liberation Sans", Arial, sans-serif' font-size="12.5" font-weight="normal" fill="#111" text-anchor="middle">rich forest ecosystems with human-</text>
<text x="760.2" y="556.55" font-family='"Liberation Sans", Arial, sans-serif' font-size="12.5" font-weight="normal" fill="#111" text-anchor="middle">engineered structures.</text>
<text x="977" y="494.4" font-family='"Liberation Sans", Arial, sans-serif' font-size="12.5" font-weight="normal" fill="#111" text-anchor="middle">This SAR image reveals details</text>
<text x="977" y="509.4" font-family='"Liberation Sans", Arial, sans-serif' font-size="12.5" font-weight="normal" fill="#111" text-anchor="middle">of farmlands within well-</text>
<text x="977" y="524.4" font-family='"Liberation Sans", Arial, sans-serif' font-size="12.5" font-weight="normal" fill="#111" text-anchor="middle">managed agricultural plots.</text>
<text x="1150.8" y="494.4" font-family='"Liberation Sans", Arial, sans-serif' font-size="12.5" font-weight="normal" fill="#111" text-anchor="middle">The developed region lies</text>
<text x="1150.8" y="509.4" font-family='"Liberation Sans", Arial, sans-serif' font-size="12.5" font-weight="normal" fill="#111" text-anchor="middle">above and to the left of</text>
<text x="1150.8" y="524.4" font-family='"Liberation Sans", Arial, sans-serif' font-size="12.5" font-weight="normal" fill="#111" text-anchor="middle">the marshy land.</text>
<path d="M304.59999999999997 284.6 L315.8 284.6 L315.8 301.3 L326.7 301.3 L310.2 320.3 L293.7 301.3 L304.59999999999997 301.3 Z" fill="#fff" stroke="#1e1e1e" stroke-width="1.3" stroke-linejoin="miter"/>
<path d="M952.4 284.6 L963.6 284.6 L963.6 300.6 L974.5 300.6 L958 320.6 L941.5 300.6 L952.4 300.6 Z" fill="#fff" stroke="#1e1e1e" stroke-width="1.3" stroke-linejoin="miter"/>
<rect x="15.8" y="612.5" width="1230.90" height="212.70" rx="30" ry="30" fill="none" stroke="#d6b656" stroke-width="1.1"/>
<rect x="23.5" y="594.6" width="186.10" height="26.40" fill="#fff"/>
<text transform="translate(25 613.6) scale(1 1.07)" x="0" y="0" font-family='"Liberation Serif", "Times New Roman", serif' font-size="22.7" font-weight="bold" letter-spacing="0.1" fill="#d6b656">4.SARCLIP Model</text>
<g filter="url(#spm)"><g clip-path="url(#c18)">
<rect x="69" y="649" width="92" height="92" fill="#888888"/>
<g transform="translate(69 649) scale(0.9200 0.9200)">
<polygon points="0,0 100,0 100,10 0,12" fill="#8c8c8c"/>
<polygon points="0,12 8,12 8,100 0,100" fill="#7a7a7a"/>
<ellipse cx="4" cy="50" rx="4" ry="10" fill="#555"/>
</g></g></g>
<g filter="url(#spm)"><g clip-path="url(#c19)">
<rect x="74" y="654" width="93" height="93" fill="#b0b0b0"/>
<g transform="translate(74 654) scale(0.9300 0.9300)" filter="url(#bl10)">
<polygon points="0,0 100,0 100,8 0,8" fill="#c8c8c8"/>
<polygon points="20,0 60,0 60,8 20,8" fill="#6a6a6a"/>
<ellipse cx="4" cy="44" rx="5" ry="20" fill="#6a6a6a"/>
<ellipse cx="3" cy="86" rx="3" ry="8" fill="#777"/>
</g></g></g>
<g filter="url(#sps)"><g clip-path="url(#c20)">
<rect x="79" y="659" width="94" height="94" fill="#1c1c1c"/>
<g transform="translate(79 659) scale(0.9400 0.9400)">
</g></g></g>
<g filter="url(#spm)"><g clip-path="url(#c21)">
<rect x="85.5" y="664" width="95" height="95" fill="#7a7a7a"/>
<g transform="translate(85.5 664) scale(0.9500 0.9500)">
<polygon points="0,0 40,0 40,6 0,6" fill="#b8b8b8"/>
<polygon points="40,0 90,0 90,6 40,6" fill="#1e1e1e"/>
<polygon points="90,0 100,0 100,6 90,6" fill="#aaa"/>
<polygon points="0,4 8,4 8,100 0,100" fill="#262626"/>
</g></g></g>
<g filter="url(#sps)"><g clip-path="url(#c22)">
<rect x="92" y="669.4" width="95.7" height="95.6" fill="#868686"/>
<g transform="translate(92 669.4) scale(0.9570 0.9560)" filter="url(#bl7)">
<polygon points="0,0 12,0 12,40 0,46" fill="#d0d0d0"/>
<polygon points="0,46 10,32 15,36 4,52 0,52" fill="#2e2e2e"/>
<polygon points="8,0 14,0 14,10 10,8" fill="#4a4a4a"/>
<polygon points="13,2 24,0 26,40 14,44" fill="#b8b8b8"/>
<ellipse cx="16" cy="27" rx="4.5" ry="3.6" fill="#161616"/>
<polygon points="76,44 86,31 100,27 100,100 60,100 61,94 69,71 72,54" fill="#343434"/>
<polyline points="72,60 96,70" fill="none" stroke="#8c8c8c" stroke-width="1.2"/>
<polyline points="98,58 94,100" fill="none" stroke="#a4a4a4" stroke-width="1.2"/>
<polyline points="68,82 90,92" fill="none" stroke="#6a6a6a" stroke-width="1"/>
<polyline points="37,0 37,100" fill="none" stroke="#e4e4e4" stroke-width="1.2"/>
<polyline points="53,0 53,60" fill="none" stroke="#a8a8a8" stroke-width="1"/>
<rect x="40" y="2" width="11" height="16" fill="#a4a4a4"/>
<rect x="58" y="4" width="9" height="34" fill="#b8b8b8"/>
<rect x="60" y="0" width="18" height="6" fill="#b0b0b0"/>
<rect x="22" y="62" width="34" height="10" fill="#c8c8c8"/>
<rect x="34" y="64" width="5" height="5" fill="#ffffff"/>
<rect x="46" y="56" width="10" height="16" fill="#cfcfcf"/>
<polygon points="0,56 30,60 26,100 0,100" fill="#8e8e8e"/>
<polygon points="0,60 6,62 4,100 0,100" fill="#bcbcbc"/>
<rect x="66" y="18" width="10" height="14" fill="#747474"/>
<polygon points="38,74 60,74 58,100 38,100" fill="#8c8c8c"/>
</g></g></g>
<line x1="187.7" y1="717.4" x2="231.6" y2="717.4" stroke="#000" stroke-width="2.2"/>
<path d="M241 717.4 L228.2 712.1999999999999 L231.6 717.4 L228.2 722.6 Z" fill="#000" stroke="#000" stroke-width="1" stroke-linejoin="miter"/>
<polygon points="241.3,654.8 304.4,675.8 304.4,759.5 241.3,780.4" fill="#d5e8d4" stroke="#8fc47c" stroke-width="1.2"/>
<text x="272.8" y="712.8" font-family='"Liberation Serif", "Times New Roman", serif' font-size="14.5" font-weight="normal" fill="#000" text-anchor="middle">Image</text>
<text x="272.8" y="730.1" font-family='"Liberation Serif", "Times New Roman", serif' font-size="14.5" font-weight="normal" fill="#000" text-anchor="middle">Encoder</text>
<line x1="304.4" y1="717.5" x2="351.20000000000005" y2="717.5" stroke="#000" stroke-width="2.2"/>
<path d="M360.6 717.5 L347.8 712.3 L351.20000000000005 717.5 L347.8 722.7 Z" fill="#000" stroke="#000" stroke-width="1" stroke-linejoin="miter"/>
<g shape-rendering="crispEdges">
<rect x="360.9" y="660.9" width="114" height="114" fill="#f7fcf5"/>
<rect x="360.90" y="660.90" width="8.44" height="8.44" fill="#0b7734"/>
<rect x="369.04" y="660.90" width="8.44" height="8.44" fill="#d9f0d3"/>
<rect x="377.19" y="660.90" width="8.44" height="8.44" fill="#0b7734"/>
<rect x="385.33" y="660.90" width="8.44" height="8.44" fill="#37a055"/>
<rect x="401.61" y="660.90" width="8.44" height="8.44" fill="#00441b"/>
<rect x="409.76" y="660.90" width="8.44" height="8.44" fill="#74c476"/>
<rect x="417.90" y="660.90" width="8.44" height="8.44" fill="#37a055"/>
<rect x="426.04" y="660.90" width="8.44" height="8.44" fill="#d9f0d3"/>
<rect x="434.19" y="660.90" width="8.44" height="8.44" fill="#74c476"/>
<rect x="442.33" y="660.90" width="8.44" height="8.44" fill="#d9f0d3"/>
<rect x="458.61" y="660.90" width="8.44" height="8.44" fill="#00441b"/>
<rect x="385.33" y="669.04" width="8.44" height="8.44" fill="#00441b"/>
<rect x="393.47" y="669.04" width="8.44" height="8.44" fill="#d9f0d3"/>
<rect x="401.61" y="669.04" width="8.44" height="8.44" fill="#d9f0d3"/>
<rect x="409.76" y="669.04" width="8.44" height="8.44" fill="#74c476"/>
<rect x="417.90" y="669.04" width="8.44" height="8.44" fill="#d9f0d3"/>
<rect x="434.19" y="669.04" width="8.44" height="8.44" fill="#74c476"/>
<rect x="466.76" y="669.04" width="8.44" height="8.44" fill="#74c476"/>
<rect x="360.90" y="677.19" width="8.44" height="8.44" fill="#74c476"/>
<rect x="369.04" y="677.19" width="8.44" height="8.44" fill="#00441b"/>
<rect x="393.47" y="677.19" width="8.44" height="8.44" fill="#74c476"/>
<rect x="417.90" y="677.19" width="8.44" height="8.44" fill="#00441b"/>
<rect x="434.19" y="677.19" width="8.44" height="8.44" fill="#addea7"/>
<rect x="442.33" y="677.19" width="8.44" height="8.44" fill="#00441b"/>
<rect x="450.47" y="677.19" width="8.44" height="8.44" fill="#d9f0d3"/>
<rect x="458.61" y="677.19" width="8.44" height="8.44" fill="#37a055"/>
<rect x="369.04" y="685.33" width="8.44" height="8.44" fill="#00441b"/>
<rect x="377.19" y="685.33" width="8.44" height="8.44" fill="#37a055"/>
<rect x="385.33" y="685.33" width="8.44" height="8.44" fill="#74c476"/>
<rect x="393.47" y="685.33" width="8.44" height="8.44" fill="#d9f0d3"/>
<rect x="409.76" y="685.33" width="8.44" height="8.44" fill="#37a055"/>
<rect x="417.90" y="685.33" width="8.44" height="8.44" fill="#74c476"/>
<rect x="434.19" y="685.33" width="8.44" height="8.44" fill="#74c476"/>
<rect x="442.33" y="685.33" width="8.44" height="8.44" fill="#0b7734"/>
<rect x="458.61" y="685.33" width="8.44" height="8.44" fill="#74c476"/>
<rect x="466.76" y="685.33" width="8.44" height="8.44" fill="#d9f0d3"/>
<rect x="369.04" y="693.47" width="8.44" height="8.44" fill="#74c476"/>
<rect x="377.19" y="693.47" width="8.44" height="8.44" fill="#37a055"/>
<rect x="401.61" y="693.47" width="8.44" height="8.44" fill="#addea7"/>
<rect x="426.04" y="693.47" width="8.44" height="8.44" fill="#addea7"/>
<rect x="450.47" y="693.47" width="8.44" height="8.44" fill="#37a055"/>
<rect x="458.61" y="693.47" width="8.44" height="8.44" fill="#0b7734"/>
<rect x="466.76" y="693.47" width="8.44" height="8.44" fill="#37a055"/>
<rect x="360.90" y="701.61" width="8.44" height="8.44" fill="#0b7734"/>
<rect x="369.04" y="701.61" width="8.44" height="8.44" fill="#37a055"/>
<rect x="377.19" y="701.61" width="8.44" height="8.44" fill="#d9f0d3"/>
<rect x="385.33" y="701.61" width="8.44" height="8.44" fill="#d9f0d3"/>
<rect x="393.47" y="701.61" width="8.44" height="8.44" fill="#addea7"/>
<rect x="401.61" y="701.61" width="8.44" height="8.44" fill="#0b7734"/>
<rect x="426.04" y="701.61" width="8.44" height="8.44" fill="#37a055"/>
<rect x="442.33" y="701.61" width="8.44" height="8.44" fill="#74c476"/>
<rect x="450.47" y="701.61" width="8.44" height="8.44" fill="#d9f0d3"/>
<rect x="458.61" y="701.61" width="8.44" height="8.44" fill="#74c476"/>
<rect x="466.76" y="701.61" width="8.44" height="8.44" fill="#d9f0d3"/>
<rect x="360.90" y="709.76" width="8.44" height="8.44" fill="#d9f0d3"/>
<rect x="369.04" y="709.76" width="8.44" height="8.44" fill="#d9f0d3"/>
<rect x="377.19" y="709.76" width="8.44" height="8.44" fill="#d9f0d3"/>
<rect x="409.76" y="709.76" width="8.44" height="8.44" fill="#00441b"/>
<rect x="417.90" y="709.76" width="8.44" height="8.44" fill="#37a055"/>
<rect x="426.04" y="709.76" width="8.44" height="8.44" fill="#addea7"/>
<rect x="434.19" y="709.76" width="8.44" height="8.44" fill="#d9f0d3"/>
<rect x="442.33" y="709.76" width="8.44" height="8.44" fill="#addea7"/>
<rect x="458.61" y="709.76" width="8.44" height="8.44" fill="#0b7734"/>
<rect x="466.76" y="709.76" width="8.44" height="8.44" fill="#37a055"/>
<rect x="369.04" y="717.90" width="8.44" height="8.44" fill="#00441b"/>
<rect x="385.33" y="717.90" width="8.44" height="8.44" fill="#d9f0d3"/>
<rect x="393.47" y="717.90" width="8.44" height="8.44" fill="#0b7734"/>
<rect x="401.61" y="717.90" width="8.44" height="8.44" fill="#d9f0d3"/>
<rect x="409.76" y="717.90" width="8.44" height="8.44" fill="#00441b"/>
<rect x="426.04" y="717.90" width="8.44" height="8.44" fill="#d9f0d3"/>
<rect x="434.19" y="717.90" width="8.44" height="8.44" fill="#d9f0d3"/>
<rect x="450.47" y="717.90" width="8.44" height="8.44" fill="#d9f0d3"/>
<rect x="360.90" y="726.04" width="8.44" height="8.44" fill="#74c476"/>
<rect x="393.47" y="726.04" width="8.44" height="8.44" fill="#d9f0d3"/>
<rect x="401.61" y="726.04" width="8.44" height="8.44" fill="#37a055"/>
<rect x="417.90" y="726.04" width="8.44" height="8.44" fill="#00441b"/>
<rect x="434.19" y="726.04" width="8.44" height="8.44" fill="#00441b"/>
<rect x="450.47" y="726.04" width="8.44" height="8.44" fill="#37a055"/>
<rect x="458.61" y="726.04" width="8.44" height="8.44" fill="#00441b"/>
<rect x="466.76" y="726.04" width="8.44" height="8.44" fill="#74c476"/>
<rect x="369.04" y="734.19" width="8.44" height="8.44" fill="#37a055"/>
<rect x="377.19" y="734.19" width="8.44" height="8.44" fill="#0b7734"/>
<rect x="401.61" y="734.19" width="8.44" height="8.44" fill="#d9f0d3"/>
<rect x="426.04" y="734.19" width="8.44" height="8.44" fill="#d9f0d3"/>
<rect x="442.33" y="734.19" width="8.44" height="8.44" fill="#addea7"/>
<rect x="450.47" y="734.19" width="8.44" height="8.44" fill="#00441b"/>
<rect x="458.61" y="734.19" width="8.44" height="8.44" fill="#d9f0d3"/>
<rect x="369.04" y="742.33" width="8.44" height="8.44" fill="#d9f0d3"/>
<rect x="377.19" y="742.33" width="8.44" height="8.44" fill="#00441b"/>
<rect x="385.33" y="742.33" width="8.44" height="8.44" fill="#74c476"/>
<rect x="393.47" y="742.33" width="8.44" height="8.44" fill="#37a055"/>
<rect x="401.61" y="742.33" width="8.44" height="8.44" fill="#d9f0d3"/>
<rect x="426.04" y="742.33" width="8.44" height="8.44" fill="#0b7734"/>
<rect x="450.47" y="742.33" width="8.44" height="8.44" fill="#0b7734"/>
<rect x="458.61" y="742.33" width="8.44" height="8.44" fill="#74c476"/>
<rect x="369.04" y="750.47" width="8.44" height="8.44" fill="#37a055"/>
<rect x="385.33" y="750.47" width="8.44" height="8.44" fill="#37a055"/>
<rect x="393.47" y="750.47" width="8.44" height="8.44" fill="#0b7734"/>
<rect x="401.61" y="750.47" width="8.44" height="8.44" fill="#00441b"/>
<rect x="426.04" y="750.47" width="8.44" height="8.44" fill="#37a055"/>
<rect x="450.47" y="750.47" width="8.44" height="8.44" fill="#addea7"/>
<rect x="360.90" y="758.61" width="8.44" height="8.44" fill="#0b7734"/>
<rect x="369.04" y="758.61" width="8.44" height="8.44" fill="#d9f0d3"/>
<rect x="377.19" y="758.61" width="8.44" height="8.44" fill="#addea7"/>
<rect x="385.33" y="758.61" width="8.44" height="8.44" fill="#0b7734"/>
<rect x="393.47" y="758.61" width="8.44" height="8.44" fill="#addea7"/>
<rect x="409.76" y="758.61" width="8.44" height="8.44" fill="#74c476"/>
<rect x="426.04" y="758.61" width="8.44" height="8.44" fill="#d9f0d3"/>
<rect x="450.47" y="758.61" width="8.44" height="8.44" fill="#00441b"/>
<rect x="458.61" y="758.61" width="8.44" height="8.44" fill="#addea7"/>
<rect x="360.90" y="766.76" width="8.44" height="8.44" fill="#74c476"/>
<rect x="393.47" y="766.76" width="8.44" height="8.44" fill="#addea7"/>
<rect x="409.76" y="766.76" width="8.44" height="8.44" fill="#74c476"/>
<rect x="434.19" y="766.76" width="8.44" height="8.44" fill="#0b7734"/>
<rect x="442.33" y="766.76" width="8.44" height="8.44" fill="#d9f0d3"/>
<rect x="450.47" y="766.76" width="8.44" height="8.44" fill="#00441b"/>
<rect x="458.61" y="766.76" width="8.44" height="8.44" fill="#37a055"/>
</g>
<line x1="474.9" y1="717.5" x2="513.6" y2="717.5" stroke="#000" stroke-width="2.2"/>
<path d="M523 717.5 L510.2 712.3 L513.6 717.5 L510.2 722.7 Z" fill="#000" stroke="#000" stroke-width="1" stroke-linejoin="miter"/>
<rect x="523.4" y="638.3" width="33.00" height="161.20" fill="#d5e8d4" stroke="#8fc47c" stroke-width="1.2"/>
<line x1="523.4" y1="670.54" x2="556.4" y2="670.54" stroke="#8fc47c" stroke-width="1.2"/>
<line x1="523.4" y1="702.78" x2="556.4" y2="702.78" stroke="#8fc47c" stroke-width="1.2"/>
<line x1="523.4" y1="735.02" x2="556.4" y2="735.02" stroke="#8fc47c" stroke-width="1.2"/>
<line x1="523.4" y1="767.26" x2="556.4" y2="767.26" stroke="#8fc47c" stroke-width="1.2"/>
<text x="530.4" y="658.92" font-family='"Liberation Serif", "Times New Roman", serif' font-size="18" fill="#000"><tspan font-weight="bold">z</tspan><tspan font-size="10.5" dy="3.2">1</tspan><tspan font-size="9.8" dy="-11" dx="0.6">I</tspan></text>
<text x="530.4" y="691.16" font-family='"Liberation Serif", "Times New Roman", serif' font-size="18" fill="#000"><tspan font-weight="bold">z</tspan><tspan font-size="10.5" dy="3.2">2</tspan><tspan font-size="9.8" dy="-11" dx="0.6">I</tspan></text>
<text x="530.4" y="723.4" font-family='"Liberation Serif", "Times New Roman", serif' font-size="18" fill="#000"><tspan font-weight="bold">z</tspan><tspan font-size="10.5" dy="3.2">3</tspan><tspan font-size="9.8" dy="-11" dx="0.6">I</tspan></text>
<text x="539.9" y="754.14" font-family='"Liberation Serif", "Times New Roman", serif' font-size="11" font-weight="normal" fill="#000" text-anchor="middle">...</text>
<text x="530.4" y="787.88" font-family='"Liberation Serif", "Times New Roman", serif' font-size="18" fill="#000"><tspan font-weight="bold">z</tspan><tspan font-size="10.5" dy="3.2">n</tspan><tspan font-size="9.8" dy="-11" dx="0.6">I</tspan></text>
<rect x="701.3" y="637.6" width="33.60" height="161.90" fill="#dae8fc" stroke="#6c8ebf" stroke-width="1.2"/>
<line x1="701.3" y1="669.98" x2="734.9" y2="669.98" stroke="#6c8ebf" stroke-width="1.2"/>
<line x1="701.3" y1="702.36" x2="734.9" y2="702.36" stroke="#6c8ebf" stroke-width="1.2"/>
<line x1="701.3" y1="734.74" x2="734.9" y2="734.74" stroke="#6c8ebf" stroke-width="1.2"/>
<line x1="701.3" y1="767.12" x2="734.9" y2="767.12" stroke="#6c8ebf" stroke-width="1.2"/>
<text x="708.5999999999999" y="658.29" font-family='"Liberation Serif", "Times New Roman", serif' font-size="18" fill="#000"><tspan font-weight="bold">z</tspan><tspan font-size="10.5" dy="3.2">1</tspan><tspan font-size="9.8" dy="-11" dx="0.6">T</tspan></text>
<text x="708.5999999999999" y="690.6700000000001" font-family='"Liberation Serif", "Times New Roman", serif' font-size="18" fill="#000"><tspan font-weight="bold">z</tspan><tspan font-size="10.5" dy="3.2">2</tspan><tspan font-size="9.8" dy="-11" dx="0.6">T</tspan></text>
<text x="708.5999999999999" y="723.05" font-family='"Liberation Serif", "Times New Roman", serif' font-size="18" fill="#000"><tspan font-weight="bold">z</tspan><tspan font-size="10.5" dy="3.2">3</tspan><tspan font-size="9.8" dy="-11" dx="0.6">T</tspan></text>
<text x="718.0999999999999" y="753.9300000000001" font-family='"Liberation Serif", "Times New Roman", serif' font-size="11" font-weight="normal" fill="#000" text-anchor="middle">...</text>
<text x="708.5999999999999" y="787.81" font-family='"Liberation Serif", "Times New Roman", serif' font-size="18" fill="#000"><tspan font-weight="bold">z</tspan><tspan font-size="10.5" dy="3.2">n</tspan><tspan font-size="9.8" dy="-11" dx="0.6">T</tspan></text>
<g stroke="#9a9a9a" stroke-width="0.9" fill="none">
<line x1="557" y1="654.9" x2="700.7" y2="686.8"/>
<line x1="557" y1="654.9" x2="700.7" y2="718.2"/>
<line x1="557" y1="654.9" x2="700.7" y2="750.7"/>
<line x1="557" y1="654.9" x2="700.7" y2="782.9"/>
<line x1="557" y1="686.8" x2="700.7" y2="654.9"/>
<line x1="557" y1="686.8" x2="700.7" y2="718.2"/>
<line x1="557" y1="686.8" x2="700.7" y2="750.7"/>
<line x1="557" y1="686.8" x2="700.7" y2="782.9"/>
<line x1="557" y1="718.2" x2="700.7" y2="654.9"/>
<line x1="557" y1="718.2" x2="700.7" y2="686.8"/>
<line x1="557" y1="718.2" x2="700.7" y2="750.7"/>
<line x1="557" y1="718.2" x2="700.7" y2="782.9"/>
<line x1="557" y1="750.7" x2="700.7" y2="654.9"/>
<line x1="557" y1="750.7" x2="700.7" y2="686.8"/>
<line x1="557" y1="750.7" x2="700.7" y2="718.2"/>
<line x1="557" y1="750.7" x2="700.7" y2="782.9"/>
<line x1="557" y1="782.9" x2="700.7" y2="654.9"/>
<line x1="557" y1="782.9" x2="700.7" y2="686.8"/>
<line x1="557" y1="782.9" x2="700.7" y2="718.2"/>
<line x1="557" y1="782.9" x2="700.7" y2="750.7"/>
</g>
<g stroke="#2e2e2e" stroke-width="1.3" fill="none">
<line x1="557" y1="654.9" x2="700.7" y2="654.9"/>
<line x1="557" y1="686.8" x2="700.7" y2="686.8"/>
<line x1="557" y1="718.2" x2="700.7" y2="718.2"/>
<line x1="557" y1="750.7" x2="700.7" y2="750.7"/>
<line x1="557" y1="782.9" x2="700.7" y2="782.9"/>
</g>
<text x="630.4" y="814.6" font-family='"Liberation Serif", "Times New Roman", serif' font-size="14.5" font-weight="normal" fill="#000" text-anchor="middle">Bidirectional Contrast Learning</text>
<line x1="780.2" y1="717.3" x2="744.6" y2="717.3" stroke="#000" stroke-width="2.2"/>
<path d="M735.2 717.3 L748.0 712.0999999999999 L744.6 717.3 L748.0 722.5 Z" fill="#000" stroke="#000" stroke-width="1" stroke-linejoin="miter"/>
<g shape-rendering="crispEdges">
<rect x="780.2" y="659.8" width="115" height="115" fill="#f7fbff"/>
<rect x="788.41" y="659.80" width="8.51" height="8.51" fill="#bad6eb"/>
<rect x="796.63" y="659.80" width="8.51" height="8.51" fill="#dbe9f6"/>
<rect x="804.84" y="659.80" width="8.51" height="8.51" fill="#3e8ec4"/>
<rect x="813.06" y="659.80" width="8.51" height="8.51" fill="#7db8da"/>
<rect x="821.27" y="659.80" width="8.51" height="8.51" fill="#3e8ec4"/>
<rect x="829.49" y="659.80" width="8.51" height="8.51" fill="#dbe9f6"/>
<rect x="837.70" y="659.80" width="8.51" height="8.51" fill="#08306b"/>
<rect x="845.91" y="659.80" width="8.51" height="8.51" fill="#bad6eb"/>
<rect x="854.13" y="659.80" width="8.51" height="8.51" fill="#bad6eb"/>
<rect x="862.34" y="659.80" width="8.51" height="8.51" fill="#08306b"/>
<rect x="870.56" y="659.80" width="8.51" height="8.51" fill="#1561a9"/>
<rect x="878.77" y="659.80" width="8.51" height="8.51" fill="#bad6eb"/>
<rect x="886.99" y="659.80" width="8.51" height="8.51" fill="#3e8ec4"/>
<rect x="780.20" y="668.01" width="8.51" height="8.51" fill="#7db8da"/>
<rect x="788.41" y="668.01" width="8.51" height="8.51" fill="#dbe9f6"/>
<rect x="796.63" y="668.01" width="8.51" height="8.51" fill="#dbe9f6"/>
<rect x="804.84" y="668.01" width="8.51" height="8.51" fill="#3e8ec4"/>
<rect x="813.06" y="668.01" width="8.51" height="8.51" fill="#1561a9"/>
<rect x="821.27" y="668.01" width="8.51" height="8.51" fill="#bad6eb"/>
<rect x="837.70" y="668.01" width="8.51" height="8.51" fill="#bad6eb"/>
<rect x="845.91" y="668.01" width="8.51" height="8.51" fill="#dbe9f6"/>
<rect x="870.56" y="668.01" width="8.51" height="8.51" fill="#dbe9f6"/>
<rect x="886.99" y="668.01" width="8.51" height="8.51" fill="#bad6eb"/>
<rect x="780.20" y="676.23" width="8.51" height="8.51" fill="#1561a9"/>
<rect x="804.84" y="676.23" width="8.51" height="8.51" fill="#7db8da"/>
<rect x="837.70" y="676.23" width="8.51" height="8.51" fill="#7db8da"/>
<rect x="845.91" y="676.23" width="8.51" height="8.51" fill="#dbe9f6"/>
<rect x="854.13" y="676.23" width="8.51" height="8.51" fill="#3e8ec4"/>
<rect x="862.34" y="676.23" width="8.51" height="8.51" fill="#1561a9"/>
<rect x="870.56" y="676.23" width="8.51" height="8.51" fill="#bad6eb"/>
<rect x="886.99" y="676.23" width="8.51" height="8.51" fill="#bad6eb"/>
<rect x="780.20" y="684.44" width="8.51" height="8.51" fill="#dbe9f6"/>
<rect x="788.41" y="684.44" width="8.51" height="8.51" fill="#bad6eb"/>
<rect x="796.63" y="684.44" width="8.51" height="8.51" fill="#dbe9f6"/>
<rect x="804.84" y="684.44" width="8.51" height="8.51" fill="#3e8ec4"/>
<rect x="813.06" y="684.44" width="8.51" height="8.51" fill="#1561a9"/>
<rect x="829.49" y="684.44" width="8.51" height="8.51" fill="#dbe9f6"/>
<rect x="837.70" y="684.44" width="8.51" height="8.51" fill="#bad6eb"/>
<rect x="845.91" y="684.44" width="8.51" height="8.51" fill="#3e8ec4"/>
<rect x="854.13" y="684.44" width="8.51" height="8.51" fill="#dbe9f6"/>
<rect x="870.56" y="684.44" width="8.51" height="8.51" fill="#dbe9f6"/>
<rect x="878.77" y="684.44" width="8.51" height="8.51" fill="#dbe9f6"/>
<rect x="886.99" y="684.44" width="8.51" height="8.51" fill="#dbe9f6"/>
<rect x="780.20" y="692.66" width="8.51" height="8.51" fill="#08306b"/>
<rect x="796.63" y="692.66" width="8.51" height="8.51" fill="#dbe9f6"/>
<rect x="804.84" y="692.66" width="8.51" height="8.51" fill="#1561a9"/>
<rect x="821.27" y="692.66" width="8.51" height="8.51" fill="#dbe9f6"/>
<rect x="829.49" y="692.66" width="8.51" height="8.51" fill="#3e8ec4"/>
<rect x="837.70" y="692.66" width="8.51" height="8.51" fill="#1561a9"/>
<rect x="845.91" y="692.66" width="8.51" height="8.51" fill="#3e8ec4"/>
<rect x="854.13" y="692.66" width="8.51" height="8.51" fill="#7db8da"/>
<rect x="862.34" y="692.66" width="8.51" height="8.51" fill="#dbe9f6"/>
<rect x="870.56" y="692.66" width="8.51" height="8.51" fill="#dbe9f6"/>
<rect x="878.77" y="692.66" width="8.51" height="8.51" fill="#1561a9"/>
<rect x="886.99" y="692.66" width="8.51" height="8.51" fill="#3e8ec4"/>
<rect x="780.20" y="700.87" width="8.51" height="8.51" fill="#bad6eb"/>
<rect x="796.63" y="700.87" width="8.51" height="8.51" fill="#7db8da"/>
<rect x="804.84" y="700.87" width="8.51" height="8.51" fill="#dbe9f6"/>
<rect x="829.49" y="700.87" width="8.51" height="8.51" fill="#1561a9"/>
<rect x="837.70" y="700.87" width="8.51" height="8.51" fill="#3e8ec4"/>
<rect x="845.91" y="700.87" width="8.51" height="8.51" fill="#08306b"/>
<rect x="854.13" y="700.87" width="8.51" height="8.51" fill="#3e8ec4"/>
<rect x="862.34" y="700.87" width="8.51" height="8.51" fill="#dbe9f6"/>
<rect x="870.56" y="700.87" width="8.51" height="8.51" fill="#08306b"/>
<rect x="878.77" y="700.87" width="8.51" height="8.51" fill="#1561a9"/>
<rect x="886.99" y="700.87" width="8.51" height="8.51" fill="#3e8ec4"/>
<rect x="780.20" y="709.09" width="8.51" height="8.51" fill="#bad6eb"/>
<rect x="796.63" y="709.09" width="8.51" height="8.51" fill="#1561a9"/>
<rect x="829.49" y="709.09" width="8.51" height="8.51" fill="#bad6eb"/>
<rect x="837.70" y="709.09" width="8.51" height="8.51" fill="#3e8ec4"/>
<rect x="845.91" y="709.09" width="8.51" height="8.51" fill="#08306b"/>
<rect x="854.13" y="709.09" width="8.51" height="8.51" fill="#1561a9"/>
<rect x="862.34" y="709.09" width="8.51" height="8.51" fill="#bad6eb"/>
<rect x="878.77" y="709.09" width="8.51" height="8.51" fill="#08306b"/>
<rect x="886.99" y="709.09" width="8.51" height="8.51" fill="#dbe9f6"/>
<rect x="780.20" y="717.30" width="8.51" height="8.51" fill="#dbe9f6"/>
<rect x="788.41" y="717.30" width="8.51" height="8.51" fill="#7db8da"/>
<rect x="796.63" y="717.30" width="8.51" height="8.51" fill="#dbe9f6"/>
<rect x="804.84" y="717.30" width="8.51" height="8.51" fill="#dbe9f6"/>
<rect x="813.06" y="717.30" width="8.51" height="8.51" fill="#dbe9f6"/>
<rect x="821.27" y="717.30" width="8.51" height="8.51" fill="#1561a9"/>
<rect x="829.49" y="717.30" width="8.51" height="8.51" fill="#7db8da"/>
<rect x="862.34" y="717.30" width="8.51" height="8.51" fill="#7db8da"/>
<rect x="886.99" y="717.30" width="8.51" height="8.51" fill="#dbe9f6"/>
<rect x="780.20" y="725.51" width="8.51" height="8.51" fill="#08306b"/>
<rect x="788.41" y="725.51" width="8.51" height="8.51" fill="#08306b"/>
<rect x="796.63" y="725.51" width="8.51" height="8.51" fill="#7db8da"/>
<rect x="804.84" y="725.51" width="8.51" height="8.51" fill="#bad6eb"/>
<rect x="813.06" y="725.51" width="8.51" height="8.51" fill="#08306b"/>
<rect x="821.27" y="725.51" width="8.51" height="8.51" fill="#3e8ec4"/>
<rect x="837.70" y="725.51" width="8.51" height="8.51" fill="#7db8da"/>
<rect x="854.13" y="725.51" width="8.51" height="8.51" fill="#dbe9f6"/>
<rect x="862.34" y="725.51" width="8.51" height="8.51" fill="#7db8da"/>
<rect x="870.56" y="725.51" width="8.51" height="8.51" fill="#dbe9f6"/>
<rect x="878.77" y="725.51" width="8.51" height="8.51" fill="#dbe9f6"/>
<rect x="886.99" y="725.51" width="8.51" height="8.51" fill="#dbe9f6"/>
<rect x="796.63" y="733.73" width="8.51" height="8.51" fill="#7db8da"/>
<rect x="804.84" y="733.73" width="8.51" height="8.51" fill="#08306b"/>
<rect x="813.06" y="733.73" width="8.51" height="8.51" fill="#bad6eb"/>
<rect x="821.27" y="733.73" width="8.51" height="8.51" fill="#08306b"/>
<rect x="837.70" y="733.73" width="8.51" height="8.51" fill="#08306b"/>
<rect x="845.91" y="733.73" width="8.51" height="8.51" fill="#bad6eb"/>
<rect x="878.77" y="733.73" width="8.51" height="8.51" fill="#dbe9f6"/>
<rect x="886.99" y="733.73" width="8.51" height="8.51" fill="#bad6eb"/>
<rect x="780.20" y="741.94" width="8.51" height="8.51" fill="#7db8da"/>
<rect x="788.41" y="741.94" width="8.51" height="8.51" fill="#bad6eb"/>
<rect x="796.63" y="741.94" width="8.51" height="8.51" fill="#dbe9f6"/>
<rect x="804.84" y="741.94" width="8.51" height="8.51" fill="#3e8ec4"/>
<rect x="813.06" y="741.94" width="8.51" height="8.51" fill="#3e8ec4"/>
<rect x="829.49" y="741.94" width="8.51" height="8.51" fill="#7db8da"/>
<rect x="837.70" y="741.94" width="8.51" height="8.51" fill="#dbe9f6"/>
<rect x="845.91" y="741.94" width="8.51" height="8.51" fill="#7db8da"/>
<rect x="854.13" y="741.94" width="8.51" height="8.51" fill="#bad6eb"/>
<rect x="870.56" y="741.94" width="8.51" height="8.51" fill="#7db8da"/>
<rect x="878.77" y="741.94" width="8.51" height="8.51" fill="#bad6eb"/>
<rect x="788.41" y="750.16" width="8.51" height="8.51" fill="#7db8da"/>
<rect x="804.84" y="750.16" width="8.51" height="8.51" fill="#dbe9f6"/>
<rect x="813.06" y="750.16" width="8.51" height="8.51" fill="#bad6eb"/>
<rect x="821.27" y="750.16" width="8.51" height="8.51" fill="#3e8ec4"/>
<rect x="829.49" y="750.16" width="8.51" height="8.51" fill="#3e8ec4"/>
<rect x="837.70" y="750.16" width="8.51" height="8.51" fill="#1561a9"/>
<rect x="845.91" y="750.16" width="8.51" height="8.51" fill="#08306b"/>
<rect x="854.13" y="750.16" width="8.51" height="8.51" fill="#3e8ec4"/>
<rect x="862.34" y="750.16" width="8.51" height="8.51" fill="#1561a9"/>
<rect x="878.77" y="750.16" width="8.51" height="8.51" fill="#dbe9f6"/>
<rect x="886.99" y="750.16" width="8.51" height="8.51" fill="#7db8da"/>
<rect x="780.20" y="758.37" width="8.51" height="8.51" fill="#1561a9"/>
<rect x="788.41" y="758.37" width="8.51" height="8.51" fill="#08306b"/>
<rect x="804.84" y="758.37" width="8.51" height="8.51" fill="#dbe9f6"/>
<rect x="813.06" y="758.37" width="8.51" height="8.51" fill="#bad6eb"/>
<rect x="821.27" y="758.37" width="8.51" height="8.51" fill="#bad6eb"/>
<rect x="829.49" y="758.37" width="8.51" height="8.51" fill="#3e8ec4"/>
<rect x="837.70" y="758.37" width="8.51" height="8.51" fill="#7db8da"/>
<rect x="845.91" y="758.37" width="8.51" height="8.51" fill="#dbe9f6"/>
<rect x="854.13" y="758.37" width="8.51" height="8.51" fill="#3e8ec4"/>
<rect x="878.77" y="758.37" width="8.51" height="8.51" fill="#08306b"/>
<rect x="788.41" y="766.59" width="8.51" height="8.51" fill="#dbe9f6"/>
<rect x="796.63" y="766.59" width="8.51" height="8.51" fill="#1561a9"/>
<rect x="804.84" y="766.59" width="8.51" height="8.51" fill="#3e8ec4"/>
<rect x="813.06" y="766.59" width="8.51" height="8.51" fill="#3e8ec4"/>
<rect x="821.27" y="766.59" width="8.51" height="8.51" fill="#7db8da"/>
<rect x="837.70" y="766.59" width="8.51" height="8.51" fill="#bad6eb"/>
<rect x="854.13" y="766.59" width="8.51" height="8.51" fill="#1561a9"/>
<rect x="862.34" y="766.59" width="8.51" height="8.51" fill="#bad6eb"/>
<rect x="870.56" y="766.59" width="8.51" height="8.51" fill="#7db8da"/>
<rect x="886.99" y="766.59" width="8.51" height="8.51" fill="#1561a9"/>
</g>
<line x1="935.9" y1="717.5" x2="905.0" y2="717.5" stroke="#000" stroke-width="2.2"/>
<path d="M895.6 717.5 L908.4 712.3 L905.0 717.5 L908.4 722.7 Z" fill="#000" stroke="#000" stroke-width="1" stroke-linejoin="miter"/>
<polygon points="935.9,675.3 998.7,655.3 998.7,780.8 935.9,759.5" fill="#dae8fc" stroke="#6c8ebf" stroke-width="1.1"/>
<text x="967.6" y="711.7" font-family='"Liberation Serif", "Times New Roman", serif' font-size="14.5" font-weight="normal" fill="#000" text-anchor="middle">Text</text>
<text x="967.6" y="729" font-family='"Liberation Serif", "Times New Roman", serif' font-size="14.5" font-weight="normal" fill="#000" text-anchor="middle">Encoder</text>
<line x1="1045.4" y1="717.8" x2="1008.4" y2="717.8" stroke="#000" stroke-width="2.2"/>
<path d="M999 717.8 L1011.8 712.5999999999999 L1008.4 717.8 L1011.8 723.0 Z" fill="#000" stroke="#000" stroke-width="1" stroke-linejoin="miter"/>
<rect x="1045.4" y="685.1" width="134.4" height="57.5" fill="#fff" stroke="#111" stroke-width="1.2"/>
<rect x="1050.2" y="690.4" width="134.4" height="57.5" fill="#fff" stroke="#111" stroke-width="1.2"/>
<rect x="1055.5" y="695.7" width="134.4" height="57.5" fill="#fff" stroke="#111" stroke-width="1.2"/>
<rect x="1060.8" y="701.6" width="134.4" height="57.5" fill="#fff" stroke="#111" stroke-width="1.2"/>
<rect x="1067" y="707.2" width="134.4" height="57.5" fill="#fff" stroke="#111" stroke-width="1.2"/>
<text x="1133" y="721.8" font-family='"Liberation Sans", Arial, sans-serif' font-size="12.55" font-weight="normal" fill="#111" text-anchor="middle">The developed region</text>
<text x="1133" y="739.5999999999999" font-family='"Liberation Sans", Arial, sans-serif' font-size="12.55" font-weight="normal" fill="#111" text-anchor="middle">lies above and to the</text>
<text x="1133" y="757.4" font-family='"Liberation Sans", Arial, sans-serif' font-size="12.55" font-weight="normal" fill="#111" text-anchor="middle">left of the marshy land.</text>
<path d="M626.9 577.6 L637.6999999999999 577.6 L637.6999999999999 591.8 L648.8 591.8 L632.3 612.3 L615.8 591.8 L626.9 591.8 Z" fill="#fff" stroke="#1e1e1e" stroke-width="1.3" stroke-linejoin="miter"/>
<path d="M626.9 825.4 L637.6999999999999 825.4 L637.6999999999999 843.0 L648.8 843.0 L632.3 863.5 L615.8 843.0 L626.9 843.0 Z" fill="#fff" stroke="#1e1e1e" stroke-width="1.3" stroke-linejoin="miter"/>
<rect x="20.7" y="863.5" width="1231.70" height="264.20" rx="36" ry="36" fill="none" stroke="#9673a6" stroke-width="1.1"/>
<rect x="27.5" y="846.8" width="261.90" height="26.20" fill="#fff"/>
<text transform="translate(29 865.8) scale(1 1.07)" x="0" y="0" font-family='"Liberation Serif", "Times New Roman", serif' font-size="22.7" font-weight="bold" letter-spacing="0.1" fill="#9673a6">5.Downstream Application</text>
<rect x="43.5" y="930" width="163.5" height="166" fill="#fff" stroke="#d9d9d9" stroke-width="1"/>
<rect x="46" y="886.6" width="154.50" height="43.40" fill="#e1d5e7" stroke="#9673a6" stroke-width="1"/>
<text x="123.25" y="903.4" font-family='"Liberation Serif", "Times New Roman", serif' font-size="16.6" font-weight="bold" fill="#000" text-anchor="middle">Cross-modal</text>
<text x="123.25" y="924" font-family='"Liberation Serif", "Times New Roman", serif' font-size="16.6" font-weight="bold" fill="#000" text-anchor="middle">Retrieval</text>
<text x="125.5" y="946" font-family='"Liberation Sans", Arial, sans-serif' font-size="9.6" font-weight="normal" fill="#595959" text-anchor="middle">Mean Recall</text>
<line x1="66" y1="1048.6" x2="198" y2="1048.6" stroke="#e3e3e3" stroke-width="0.8"/>
<line x1="66" y1="1027.4" x2="198" y2="1027.4" stroke="#e3e3e3" stroke-width="0.8"/>
<line x1="66" y1="1006.2" x2="198" y2="1006.2" stroke="#e3e3e3" stroke-width="0.8"/>
<line x1="66" y1="985.0" x2="198" y2="985.0" stroke="#e3e3e3" stroke-width="0.8"/>
<line x1="66" y1="963.8" x2="198" y2="963.8" stroke="#e3e3e3" stroke-width="0.8"/>
<text x="59.5" y="1071.8" font-family='"Liberation Sans", Arial, sans-serif' font-size="5.2" font-weight="normal" fill="#7a7a7a" text-anchor="end">0</text>
<text x="59.5" y="1050.59" font-family='"Liberation Sans", Arial, sans-serif' font-size="5.2" font-weight="normal" fill="#7a7a7a" text-anchor="end">20</text>
<text x="59.5" y="1029.3799999999999" font-family='"Liberation Sans", Arial, sans-serif' font-size="5.2" font-weight="normal" fill="#7a7a7a" text-anchor="end">40</text>
<text x="59.5" y="1008.17" font-family='"Liberation Sans", Arial, sans-serif' font-size="5.2" font-weight="normal" fill="#7a7a7a" text-anchor="end">60</text>
<text x="59.5" y="986.9599999999999" font-family='"Liberation Sans", Arial, sans-serif' font-size="5.2" font-weight="normal" fill="#7a7a7a" text-anchor="end">80</text>
<text x="59.5" y="965.75" font-family='"Liberation Sans", Arial, sans-serif' font-size="5.2" font-weight="normal" fill="#7a7a7a" text-anchor="end">100</text>
<line x1="66" y1="961" x2="66" y2="1069.8" stroke="#7f7f7f" stroke-width="0.8"/>
<path d="M66 959.3 L64.3 963 L67.7 963 Z" fill="#7f7f7f"/>
<line x1="66" y1="1069.8" x2="196" y2="1069.8" stroke="#bdbdbd" stroke-width="0.9"/>
<path d="M198.4 1069.8 L194.6 1068.1 L194.6 1071.5 Z" fill="#7f7f7f"/>
<rect x="74.3" y="1012.5" width="9.4" height="57.3" fill="#5b9bd5"/>
<text x="79.0" y="1007.3329999999999" font-family='"Liberation Sans", Arial, sans-serif' font-size="5.2" font-weight="normal" fill="#404040" text-anchor="middle">54</text>
<text x="79.0" y="1080.8" font-family='"Liberation Sans", Arial, sans-serif' font-size="4.9" font-weight="normal" fill="#7a7a7a" text-anchor="middle">Cor</text>
<rect x="100.6" y="994.5" width="9.4" height="75.3" fill="#5b9bd5"/>
<text x="105.3" y="989.3045" font-family='"Liberation Sans", Arial, sans-serif' font-size="5.2" font-weight="normal" fill="#404040" text-anchor="middle">71</text>
<text x="105.3" y="1080.8" font-family='"Liberation Sans", Arial, sans-serif' font-size="4.9" font-weight="normal" fill="#7a7a7a" text-anchor="middle">HAT</text>
<rect x="127.3" y="1000.9" width="9.4" height="68.9" fill="#5b9bd5"/>
<text x="132.0" y="995.6674999999999" font-family='"Liberation Sans", Arial, sans-serif' font-size="5.2" font-weight="normal" fill="#404040" text-anchor="middle">65</text>
<text x="132.0" y="1080.8" font-family='"Liberation Sans", Arial, sans-serif' font-size="4.9" font-weight="normal" fill="#7a7a7a" text-anchor="middle">VSE++</text>
<rect x="153.9" y="996.6" width="9.4" height="73.2" fill="#5b9bd5"/>
<text x="158.6" y="991.4254999999999" font-family='"Liberation Sans", Arial, sans-serif' font-size="5.2" font-weight="normal" fill="#404040" text-anchor="middle">69</text>
<text x="158.6" y="1080.8" font-family='"Liberation Sans", Arial, sans-serif' font-size="4.9" font-weight="normal" fill="#7a7a7a" text-anchor="middle">Deep</text>
<text x="158.6" y="1089.5" font-family='"Liberation Sans", Arial, sans-serif' font-size="4.9" font-weight="normal" fill="#7a7a7a" text-anchor="middle">CMPL</text>
<rect x="180.6" y="983.9" width="9.4" height="85.9" fill="#5b9bd5"/>
<text x="185.29999999999998" y="978.6995" font-family='"Liberation Sans", Arial, sans-serif' font-size="5.2" font-weight="normal" fill="#404040" text-anchor="middle">81</text>
<text x="185.29999999999998" y="1080.8" font-family='"Liberation Sans", Arial, sans-serif' font-size="4.9" font-weight="normal" fill="#7a7a7a" text-anchor="middle">SARCLIP</text>
<rect x="278.2" y="885.9" width="154.90" height="44.30" fill="#e1d5e7" stroke="#9673a6" stroke-width="1"/>
<text x="355.65" y="903.5" font-family='"Liberation Serif", "Times New Roman", serif' font-size="16.6" font-weight="bold" fill="#000" text-anchor="middle">Zero-shot</text>
<text x="355.65" y="924" font-family='"Liberation Serif", "Times New Roman", serif' font-size="16.6" font-weight="bold" fill="#000" text-anchor="middle">Classification</text>
<g filter="url(#spz)"><g clip-path="url(#c23)">
<rect x="276.9" y="932.9" width="48.3" height="48.3" fill="#5c5c5c"/>
<g transform="translate(276.9 932.9) scale(0.4830 0.4830)" filter="url(#bl17)">
<polygon points="2,10 44,6 46,46 4,50" fill="#2a2a2a"/>
<polygon points="56,30 98,26 100,68 60,72" fill="#303030"/>
<polygon points="6,56 40,52 42,96 8,100" fill="#4a4a4a"/>
<polygon points="44,0 100,0 100,24 50,28" fill="#686868"/>
<polyline points="50,0 60,100" fill="none" stroke="#7c7c7c" stroke-width="2"/>
<polyline points="20,50 28,100" fill="none" stroke="#3a3a3a" stroke-width="3"/>
<polyline points="70,70 76,100" fill="none" stroke="#3c3c3c" stroke-width="3"/>
</g></g></g>
<g filter="url(#spz)"><g clip-path="url(#c24)">
<rect x="330.1" y="932.9" width="48.3" height="48.3" fill="#888888"/>
<g transform="translate(330.1 932.9) scale(0.4830 0.4830)" filter="url(#bl30)">
<polygon points="0,0 46,0 0,34" fill="#767676"/>
<polygon points="60,100 100,60 100,100" fill="#929292"/>
</g></g></g>
<g filter="url(#spz)"><g clip-path="url(#c25)">
<rect x="383.9" y="932.9" width="48.3" height="48.3" fill="#cacaca"/>
<g transform="translate(383.9 932.9) scale(0.4830 0.4830)" filter="url(#bl11)">
<ellipse cx="20" cy="30" rx="6" ry="5" fill="#7a7a7a"/>
<ellipse cx="72" cy="20" rx="8" ry="5" fill="#8a8a8a"/>
<ellipse cx="50" cy="60" rx="6" ry="8" fill="#8c8c8c"/>
<ellipse cx="85" cy="70" rx="6" ry="5" fill="#7a7a7a"/>
<ellipse cx="25" cy="80" rx="7" ry="5" fill="#8a8a8a"/>
<polyline points="8,40 20,100" fill="none" stroke="#5a5a5a" stroke-width="2.6"/>
<polygon points="60,0 100,0 100,20" fill="#a0a0a0"/>
<ellipse cx="76" cy="30" rx="5" ry="6" fill="#777"/>
<polyline points="30,0 50,50 40,100" fill="none" stroke="#8a8a8a" stroke-width="2"/>
<polyline points="0,60 100,50" fill="none" stroke="#9a9a9a" stroke-width="2"/>
<ellipse cx="40" cy="20" rx="4" ry="4" fill="#fff"/>
<ellipse cx="60" cy="80" rx="5" ry="4" fill="#fff"/>
</g></g></g>
<g filter="url(#spz)"><g clip-path="url(#c26)">
<rect x="276.9" y="991.8" width="48.3" height="48.3" fill="#d6d6d6"/>
<g transform="translate(276.9 991.8) scale(0.4830 0.4830)" filter="url(#bl13)">
<polygon points="0,0 40,0 0,46" fill="#8e8e8e"/>
<polygon points="60,0 100,0 100,40 84,22" fill="#8a8a8a"/>
<polygon points="0,50 30,70 10,100 0,100" fill="#bcbcbc"/>
<ellipse cx="50" cy="84" rx="12" ry="8" fill="#8a8a8a"/>
<ellipse cx="82" cy="62" rx="8" ry="6" fill="#999"/>
<ellipse cx="30" cy="30" rx="6" ry="5" fill="#aaa"/>
<ellipse cx="62" cy="44" rx="8" ry="5" fill="#9c9c9c"/>
<ellipse cx="40" cy="60" rx="10" ry="8" fill="#fafafa"/>
<ellipse cx="20" cy="76" rx="6" ry="5" fill="#888"/>
<ellipse cx="70" cy="84" rx="6" ry="5" fill="#8a8a8a"/>
<ellipse cx="50" cy="20" rx="8" ry="6" fill="#fff"/>
</g></g></g>
<g filter="url(#spz)"><g clip-path="url(#c27)">
<rect x="330.1" y="991.8" width="48.3" height="48.3" fill="#9a9a9a"/>
<g transform="translate(330.1 991.8) scale(0.4830 0.4830)" filter="url(#bl13)">
<polygon points="0,0 20,0 28,30 10,40 0,30" fill="#3c3c3c"/>
<polygon points="10,40 40,34 50,60 30,80 12,70" fill="#f4f4f4"/>
<polygon points="0,66 20,70 26,92 6,98 0,90" fill="#161616"/>
<polyline points="72,0 60,100" fill="none" stroke="#585858" stroke-width="3"/>
<polyline points="92,10 78,100" fill="none" stroke="#6a6a6a" stroke-width="2"/>
<polygon points="30,0 70,0 60,30 36,24" fill="#b8b8b8"/>
</g></g></g>
<g filter="url(#spz)"><g clip-path="url(#c28)">
<rect x="383.9" y="991.8" width="48.3" height="48.3" fill="#8c8c8c"/>
<g transform="translate(383.9 991.8) scale(0.4830 0.4830)" filter="url(#bl8)">
<polyline points="0,92 92,0" fill="none" stroke="#4c4c4c" stroke-width="3.4"/>
<polyline points="8,100 100,10" fill="none" stroke="#5c5c5c" stroke-width="2.8"/>
<polyline points="0,70 70,0" fill="none" stroke="#6c6c6c" stroke-width="2.4"/>
</g></g></g>
<g filter="url(#spz)"><g clip-path="url(#c29)">
<rect x="276.9" y="1050.5" width="48.3" height="48.3" fill="#3c3c3c"/>
<g transform="translate(276.9 1050.5) scale(0.4830 0.4830)" filter="url(#bl12)">
<polygon points="0,30 44,22 50,28 28,52 14,62 0,60" fill="#8e8e8e"/>
</g></g></g>
<g filter="url(#spz)"><g clip-path="url(#c30)">
<rect x="330.1" y="1050.5" width="48.3" height="48.3" fill="#080808"/>
<g transform="translate(330.1 1050.5) scale(0.4830 0.4830)" filter="url(#bl12)">
<ellipse cx="88" cy="32" rx="4" ry="9" fill="#8a8a8a" transform="rotate(-30 88 32)"/>
<circle cx="80" cy="14" r="1.6" fill="#888"/>
</g></g></g>
<g filter="url(#spz)"><g clip-path="url(#c31)">
<rect x="383.9" y="1050.5" width="48.3" height="48.3" fill="#a0a0a0"/>
<g transform="translate(383.9 1050.5) scale(0.4830 0.4830)" filter="url(#bl11)">
<polygon points="4,0 14,0 64,100 50,100" fill="#4e4e4e"/>
<polygon points="0,0 4,0 50,100 0,100" fill="#8a8a8a"/>
<polygon points="40,20 100,10 100,60 60,70" fill="#b2b2b2"/>
<circle cx="50" cy="58" r="2" fill="#fff"/>
</g></g></g>
<text x="301.04999999999995" y="987.8" font-family='"Liberation Serif", "Times New Roman", serif' font-size="5" font-weight="normal" fill="#222" text-anchor="middle" font-style="italic">(a1)</text>
<text x="354.25" y="987.8" font-family='"Liberation Serif", "Times New Roman", serif' font-size="5" font-weight="normal" fill="#222" text-anchor="middle" font-style="italic">(a2)</text>
<text x="408.04999999999995" y="987.8" font-family='"Liberation Serif", "Times New Roman", serif' font-size="5" font-weight="normal" fill="#222" text-anchor="middle" font-style="italic">(a3)</text>
<text x="301.04999999999995" y="1046.6999999999998" font-family='"Liberation Serif", "Times New Roman", serif' font-size="5" font-weight="normal" fill="#222" text-anchor="middle" font-style="italic">(a4)</text>
<text x="354.25" y="1046.6999999999998" font-family='"Liberation Serif", "Times New Roman", serif' font-size="5" font-weight="normal" fill="#222" text-anchor="middle" font-style="italic">(a5)</text>
<text x="408.04999999999995" y="1046.6999999999998" font-family='"Liberation Serif", "Times New Roman", serif' font-size="5" font-weight="normal" fill="#222" text-anchor="middle" font-style="italic">(a6)</text>
<text x="301.04999999999995" y="1105.3999999999999" font-family='"Liberation Serif", "Times New Roman", serif' font-size="5" font-weight="normal" fill="#222" text-anchor="middle" font-style="italic">(a7)</text>
<text x="354.25" y="1105.3999999999999" font-family='"Liberation Serif", "Times New Roman", serif' font-size="5" font-weight="normal" fill="#222" text-anchor="middle" font-style="italic">(a8)</text>
<text x="408.04999999999995" y="1105.3999999999999" font-family='"Liberation Serif", "Times New Roman", serif' font-size="5" font-weight="normal" fill="#222" text-anchor="middle" font-style="italic">(a9)</text>
<rect x="522.7" y="885.9" width="155.10" height="44.30" fill="#e1d5e7" stroke="#9673a6" stroke-width="1"/>
<text x="600.25" y="903.5" font-family='"Liberation Serif", "Times New Roman", serif' font-size="16.6" font-weight="bold" fill="#000" text-anchor="middle">Few-shot</text>
<text x="600.25" y="924" font-family='"Liberation Serif", "Times New Roman", serif' font-size="16.6" font-weight="bold" fill="#000" text-anchor="middle">Classification</text>
<rect x="524.3" y="932.9" width="150.7" height="171.4" fill="#fff" stroke="#111" stroke-width="1"/>
<line x1="531.6" y1="933.4" x2="531.6" y2="1103.8" stroke="#e2e2e2" stroke-width="0.7"/>
<text x="531.6" y="1110.7" font-family='"Liberation Serif", "Times New Roman", serif' font-size="4.8" font-weight="normal" fill="#222" text-anchor="middle">0</text>
<line x1="540.2" y1="933.4" x2="540.2" y2="1103.8" stroke="#e2e2e2" stroke-width="0.7"/>
<text x="540.2" y="1110.7" font-family='"Liberation Serif", "Times New Roman", serif' font-size="4.8" font-weight="normal" fill="#222" text-anchor="middle">1</text>
<line x1="548.8" y1="933.4" x2="548.8" y2="1103.8" stroke="#e2e2e2" stroke-width="0.7"/>
<text x="548.8" y="1110.7" font-family='"Liberation Serif", "Times New Roman", serif' font-size="4.8" font-weight="normal" fill="#222" text-anchor="middle">2</text>
<line x1="565.8" y1="933.4" x2="565.8" y2="1103.8" stroke="#e2e2e2" stroke-width="0.7"/>
<text x="565.8" y="1110.7" font-family='"Liberation Serif", "Times New Roman", serif' font-size="4.8" font-weight="normal" fill="#222" text-anchor="middle">4</text>
<line x1="599.7" y1="933.4" x2="599.7" y2="1103.8" stroke="#e2e2e2" stroke-width="0.7"/>
<text x="599.7" y="1110.7" font-family='"Liberation Serif", "Times New Roman", serif' font-size="4.8" font-weight="normal" fill="#222" text-anchor="middle">8</text>
<line x1="668.1" y1="933.4" x2="668.1" y2="1103.8" stroke="#e2e2e2" stroke-width="0.7"/>
<text x="668.1" y="1110.7" font-family='"Liberation Serif", "Times New Roman", serif' font-size="4.8" font-weight="normal" fill="#222" text-anchor="middle">16</text>
<text x="521.6999999999999" y="959.0" font-family='"Liberation Serif", "Times New Roman", serif' font-size="4.6" font-weight="normal" fill="#222" text-anchor="end">70</text>
<line x1="522.6999999999999" y1="957.4" x2="524.3" y2="957.4" stroke="#111" stroke-width="0.6"/>
<text x="521.6999999999999" y="990.1" font-family='"Liberation Serif", "Times New Roman", serif' font-size="4.6" font-weight="normal" fill="#222" text-anchor="end">60</text>
<line x1="522.6999999999999" y1="988.5" x2="524.3" y2="988.5" stroke="#111" stroke-width="0.6"/>
<text x="521.6999999999999" y="1021.0" font-family='"Liberation Serif", "Times New Roman", serif' font-size="4.6" font-weight="normal" fill="#222" text-anchor="end">50</text>
<line x1="522.6999999999999" y1="1019.4" x2="524.3" y2="1019.4" stroke="#111" stroke-width="0.6"/>
<text x="521.6999999999999" y="1051.8999999999999" font-family='"Liberation Serif", "Times New Roman", serif' font-size="4.6" font-weight="normal" fill="#222" text-anchor="end">40</text>
<line x1="522.6999999999999" y1="1050.3" x2="524.3" y2="1050.3" stroke="#111" stroke-width="0.6"/>
<text x="521.6999999999999" y="1083.0" font-family='"Liberation Serif", "Times New Roman", serif' font-size="4.6" font-weight="normal" fill="#222" text-anchor="end">30</text>
<line x1="522.6999999999999" y1="1081.4" x2="524.3" y2="1081.4" stroke="#111" stroke-width="0.6"/>
<polyline points="540.2,1096.6 548.8,1046.5 565.8,1022.9 599.7,997.5 668.1,982.5" fill="none" stroke="#1f77ff" stroke-width="0.8" stroke-dasharray="2 1.5"/>
<circle cx="540.2" cy="1096.6" r="1.1" fill="#1f77ff"/>
<circle cx="548.8" cy="1046.5" r="1.1" fill="#1f77ff"/>
<circle cx="565.8" cy="1022.9" r="1.1" fill="#1f77ff"/>
<circle cx="599.7" cy="997.5" r="1.1" fill="#1f77ff"/>
<circle cx="668.1" cy="982.5" r="1.1" fill="#1f77ff"/>
<polyline points="540.2,1087.3 548.8,1044.3 565.8,1014.5 599.7,993.6 668.1,981.4" fill="none" stroke="#1f77ff" stroke-width="0.8"/>
<circle cx="540.2" cy="1087.3" r="1.1" fill="#1f77ff"/>
<circle cx="548.8" cy="1044.3" r="1.1" fill="#1f77ff"/>
<circle cx="565.8" cy="1014.5" r="1.1" fill="#1f77ff"/>
<circle cx="599.7" cy="993.6" r="1.1" fill="#1f77ff"/>
<circle cx="668.1" cy="981.4" r="1.1" fill="#1f77ff"/>
<polyline points="540.2,1079.6 548.8,1024.5 565.8,996.9 599.7,975.5 668.1,954.5" fill="none" stroke="#9467bd" stroke-width="0.8" stroke-dasharray="3 1.5"/>
<circle cx="540.2" cy="1079.6" r="1.1" fill="#9467bd"/>
<circle cx="548.8" cy="1024.5" r="1.1" fill="#9467bd"/>
<circle cx="565.8" cy="996.9" r="1.1" fill="#9467bd"/>
<circle cx="599.7" cy="975.5" r="1.1" fill="#9467bd"/>
<circle cx="668.1" cy="954.5" r="1.1" fill="#9467bd"/>
<polyline points="540.2,1080.7 548.8,1057.6 565.8,1040.6 599.7,1011.9 668.1,985.4" fill="none" stroke="#8c8c8c" stroke-width="0.8"/>
<circle cx="540.2" cy="1080.7" r="1.1" fill="#8c8c8c"/>
<circle cx="548.8" cy="1057.6" r="1.1" fill="#8c8c8c"/>
<circle cx="565.8" cy="1040.6" r="1.1" fill="#8c8c8c"/>
<circle cx="599.7" cy="1011.9" r="1.1" fill="#8c8c8c"/>
<circle cx="668.1" cy="985.4" r="1.1" fill="#8c8c8c"/>
<polyline points="540.2,1085 548.8,1020 565.8,1002 599.7,990.9 668.1,973.7" fill="none" stroke="#8c564b" stroke-width="0.8"/>
<circle cx="540.2" cy="1085" r="1.1" fill="#8c564b"/>
<circle cx="548.8" cy="1020" r="1.1" fill="#8c564b"/>
<circle cx="565.8" cy="1002" r="1.1" fill="#8c564b"/>
<circle cx="599.7" cy="990.9" r="1.1" fill="#8c564b"/>
<circle cx="668.1" cy="973.7" r="1.1" fill="#8c564b"/>
<polyline points="540.2,1074 548.8,1024.5 565.8,1014.5 599.7,992.5 668.1,977.5" fill="none" stroke="#6fdc6f" stroke-width="0.8" stroke-dasharray="1 1.5"/>
<circle cx="540.2" cy="1074" r="1.1" fill="#6fdc6f"/>
<circle cx="548.8" cy="1024.5" r="1.1" fill="#6fdc6f"/>
<circle cx="565.8" cy="1014.5" r="1.1" fill="#6fdc6f"/>
<circle cx="599.7" cy="992.5" r="1.1" fill="#6fdc6f"/>
<circle cx="668.1" cy="977.5" r="1.1" fill="#6fdc6f"/>
<polyline points="540.2,1085.8 548.8,1034.4 565.8,1002 599.7,981 668.1,968.2" fill="none" stroke="#d62728" stroke-width="0.8" stroke-dasharray="3 1 1 1"/>
<circle cx="540.2" cy="1085.8" r="1.1" fill="#d62728"/>
<circle cx="548.8" cy="1034.4" r="1.1" fill="#d62728"/>
<circle cx="565.8" cy="1002" r="1.1" fill="#d62728"/>
<circle cx="599.7" cy="981" r="1.1" fill="#d62728"/>
<circle cx="668.1" cy="968.2" r="1.1" fill="#d62728"/>
<polyline points="540.2,1073 548.8,1020 565.8,988.7 599.7,974.1 668.1,958.9" fill="none" stroke="#2ca02c" stroke-width="0.8"/>
<circle cx="540.2" cy="1073" r="1.1" fill="#2ca02c"/>
<circle cx="548.8" cy="1020" r="1.1" fill="#2ca02c"/>
<circle cx="565.8" cy="988.7" r="1.1" fill="#2ca02c"/>
<circle cx="599.7" cy="974.1" r="1.1" fill="#2ca02c"/>
<circle cx="668.1" cy="958.9" r="1.1" fill="#2ca02c"/>
<polyline points="540.2,1070.4 548.8,1011.9 565.8,995.8 599.7,973.7 668.1,957.6" fill="none" stroke="#17506e" stroke-width="0.8" stroke-dasharray="3 1 1 1"/>
<circle cx="540.2" cy="1070.4" r="1.1" fill="#17506e"/>
<circle cx="548.8" cy="1011.9" r="1.1" fill="#17506e"/>
<circle cx="565.8" cy="995.8" r="1.1" fill="#17506e"/>
<circle cx="599.7" cy="973.7" r="1.1" fill="#17506e"/>
<circle cx="668.1" cy="957.6" r="1.1" fill="#17506e"/>
<polyline points="540.2,1045.4 548.8,1000.6 565.8,988 599.7,979.7 668.1,954.5" fill="none" stroke="#ff7f0e" stroke-width="0.8" stroke-dasharray="1 1.2"/>
<circle cx="540.2" cy="1045.4" r="1.1" fill="#ff7f0e"/>
<circle cx="548.8" cy="1000.6" r="1.1" fill="#ff7f0e"/>
<circle cx="565.8" cy="988" r="1.1" fill="#ff7f0e"/>
<circle cx="599.7" cy="979.7" r="1.1" fill="#ff7f0e"/>
<circle cx="668.1" cy="954.5" r="1.1" fill="#ff7f0e"/>
<polyline points="540.2,1017.8 548.8,995.1 565.8,981.4 599.7,970.4 668.1,940.6" fill="none" stroke="#ff7f0e" stroke-width="0.8"/>
<circle cx="540.2" cy="1017.8" r="1.1" fill="#ff7f0e"/>
<circle cx="548.8" cy="995.1" r="1.1" fill="#ff7f0e"/>
<circle cx="565.8" cy="981.4" r="1.1" fill="#ff7f0e"/>
<circle cx="599.7" cy="970.4" r="1.1" fill="#ff7f0e"/>
<circle cx="668.1" cy="940.6" r="1.1" fill="#ff7f0e"/>
<path d="M531.6 995.3 L532.3 997 L534 997 L532.6 998.1 L533.1 999.8 L531.6 998.8 L530.1 999.8 L530.6 998.1 L529.2 997 L530.9 997 Z" fill="#cc33cc"/>
<text x="533.2" y="1004.6" font-family='"Liberation Serif", "Times New Roman", serif' font-size="3.6" font-weight="normal" fill="#cc33cc" text-anchor="middle">Zero-shot</text>
<text x="533.2" y="1008.9" font-family='"Liberation Serif", "Times New Roman", serif' font-size="3.6" font-weight="normal" fill="#cc33cc" text-anchor="middle">SARCLIP</text>
<rect x="607.5" y="1026.2" width="66.8" height="75.8" rx="1" fill="#fff" stroke="#d0d0d0" stroke-width="0.6"/>
<line x1="609.5" y1="1030.00" x2="620" y2="1030.00" stroke="#1f77ff" stroke-width="0.8" stroke-dasharray="2 1.5"/>
<circle cx="614.7" cy="1030.00" r="1" fill="#1f77ff"/>
<text x="622.5" y="1031.5" font-family='"Liberation Serif", "Times New Roman", serif' font-size="4.5" font-weight="normal" fill="#111" text-anchor="start">ImageNet (ResNet-50)</text>
<line x1="609.5" y1="1036.75" x2="620" y2="1036.75" stroke="#1f77ff" stroke-width="0.8"/>
<circle cx="614.7" cy="1036.75" r="1" fill="#1f77ff"/>
<text x="622.5" y="1038.25" font-family='"Liberation Serif", "Times New Roman", serif' font-size="4.5" font-weight="normal" fill="#111" text-anchor="start">ImageNet (ViT-B/32)</text>
<line x1="609.5" y1="1043.50" x2="620" y2="1043.50" stroke="#9467bd" stroke-width="0.8" stroke-dasharray="3 1.5"/>
<circle cx="614.7" cy="1043.50" r="1" fill="#9467bd"/>
<text x="622.5" y="1045.0" font-family='"Liberation Serif", "Times New Roman", serif' font-size="4.5" font-weight="normal" fill="#111" text-anchor="start">DINO (ViT-B/16)</text>
<line x1="609.5" y1="1050.25" x2="620" y2="1050.25" stroke="#8c8c8c" stroke-width="0.8"/>
<circle cx="614.7" cy="1050.25" r="1" fill="#8c8c8c"/>
<text x="622.5" y="1051.75" font-family='"Liberation Serif", "Times New Roman", serif' font-size="4.5" font-weight="normal" fill="#111" text-anchor="start">MOCO (ResNet-50)</text>
<line x1="609.5" y1="1057.00" x2="620" y2="1057.00" stroke="#8c564b" stroke-width="0.8"/>
<circle cx="614.7" cy="1057.00" r="1" fill="#8c564b"/>
<text x="622.5" y="1058.5" font-family='"Liberation Serif", "Times New Roman", serif' font-size="4.5" font-weight="normal" fill="#111" text-anchor="start">MAE (ViT-B/32)</text>
<line x1="609.5" y1="1063.75" x2="620" y2="1063.75" stroke="#6fdc6f" stroke-width="0.8" stroke-dasharray="1 1.5"/>
<circle cx="614.7" cy="1063.75" r="1" fill="#6fdc6f"/>
<text x="622.5" y="1065.25" font-family='"Liberation Serif", "Times New Roman", serif' font-size="4.5" font-weight="normal" fill="#111" text-anchor="start">SatMAE (ViT-B/16)</text>
<line x1="609.5" y1="1070.50" x2="620" y2="1070.50" stroke="#d62728" stroke-width="0.8" stroke-dasharray="3 1 1 1"/>
<circle cx="614.7" cy="1070.50" r="1" fill="#d62728"/>
<text x="622.5" y="1072.0" font-family='"Liberation Serif", "Times New Roman", serif' font-size="4.5" font-weight="normal" fill="#111" text-anchor="start">CLIP (ViT-B/32)</text>
<line x1="609.5" y1="1077.25" x2="620" y2="1077.25" stroke="#2ca02c" stroke-width="0.8"/>
<circle cx="614.7" cy="1077.25" r="1" fill="#2ca02c"/>
<text x="622.5" y="1078.75" font-family='"Liberation Serif", "Times New Roman", serif' font-size="4.5" font-weight="normal" fill="#111" text-anchor="start">RemoteCLIP (ViT-B/32)</text>
<line x1="609.5" y1="1084.00" x2="620" y2="1084.00" stroke="#17506e" stroke-width="0.8" stroke-dasharray="3 1 1 1"/>
<circle cx="614.7" cy="1084.00" r="1" fill="#17506e"/>
<text x="622.5" y="1085.5" font-family='"Liberation Serif", "Times New Roman", serif' font-size="4.5" font-weight="normal" fill="#111" text-anchor="start">SARCLIP (ResNet-50)</text>
<line x1="609.5" y1="1090.75" x2="620" y2="1090.75" stroke="#ff7f0e" stroke-width="0.8" stroke-dasharray="1 1.2"/>
<circle cx="614.7" cy="1090.75" r="1" fill="#ff7f0e"/>
<text x="622.5" y="1092.25" font-family='"Liberation Serif", "Times New Roman", serif' font-size="4.5" font-weight="normal" fill="#111" text-anchor="start">SARCLIP (ViT-B/32)</text>
<line x1="609.5" y1="1097.50" x2="620" y2="1097.50" stroke="#ff7f0e" stroke-width="0.8"/>
<circle cx="614.7" cy="1097.50" r="1" fill="#ff7f0e"/>
<text x="622.5" y="1099.0" font-family='"Liberation Serif", "Times New Roman", serif' font-size="4.5" font-weight="normal" fill="#111" text-anchor="start">SARCLIP (ViT-L/14)</text>
<text x="599.7" y="1116" font-family='"Liberation Serif", "Times New Roman", serif' font-size="4.8" font-weight="normal" fill="#111" text-anchor="middle">Number of labeled training examples per class</text>
<text x="515.8" y="1019" font-family='"Liberation Serif", "Times New Roman", serif' font-size="4.8" fill="#111" text-anchor="middle" transform="rotate(-90 515.8 1019)">TOP-1 Score(%)</text>
<rect x="786.9" y="885.9" width="155.10" height="44.30" fill="#e1d5e7" stroke="#9673a6" stroke-width="1"/>
<text x="864.45" y="903.5" font-family='"Liberation Serif", "Times New Roman", serif' font-size="16.6" font-weight="bold" fill="#000" text-anchor="middle">Object</text>
<text x="864.45" y="924" font-family='"Liberation Serif", "Times New Roman", serif' font-size="16.6" font-weight="bold" fill="#000" text-anchor="middle">Counting</text>
<g shape-rendering="crispEdges">
<rect x="788.00" y="935.80" width="19.40" height="19.40" fill="#08306b"/>
<rect x="807.10" y="935.80" width="19.40" height="19.40" fill="#eaf3fb"/>
<rect x="826.20" y="935.80" width="19.40" height="19.40" fill="#f7fbff"/>
<rect x="845.30" y="935.80" width="19.40" height="19.40" fill="#f7fbff"/>
<rect x="864.40" y="935.80" width="19.40" height="19.40" fill="#f7fbff"/>
<rect x="883.50" y="935.80" width="19.40" height="19.40" fill="#f7fbff"/>
<rect x="902.60" y="935.80" width="19.40" height="19.40" fill="#f7fbff"/>
<rect x="921.70" y="935.80" width="19.40" height="19.40" fill="#f7fbff"/>
<rect x="788.00" y="954.90" width="19.40" height="19.40" fill="#e1edf8"/>
<rect x="807.10" y="954.90" width="19.40" height="19.40" fill="#084f99"/>
<rect x="826.20" y="954.90" width="19.40" height="19.40" fill="#e8f1fa"/>
<rect x="845.30" y="954.90" width="19.40" height="19.40" fill="#f5fafe"/>
<rect x="864.40" y="954.90" width="19.40" height="19.40" fill="#f7fbff"/>
<rect x="883.50" y="954.90" width="19.40" height="19.40" fill="#f7fbff"/>
<rect x="902.60" y="954.90" width="19.40" height="19.40" fill="#f7fbff"/>
<rect x="921.70" y="954.90" width="19.40" height="19.40" fill="#f7fbff"/>
<rect x="788.00" y="974.00" width="19.40" height="19.40" fill="#f5fafe"/>
<rect x="807.10" y="974.00" width="19.40" height="19.40" fill="#dbe9f6"/>
<rect x="826.20" y="974.00" width="19.40" height="19.40" fill="#0d58a1"/>
<rect x="845.30" y="974.00" width="19.40" height="19.40" fill="#e8f1fa"/>
<rect x="864.40" y="974.00" width="19.40" height="19.40" fill="#f7fbff"/>
<rect x="883.50" y="974.00" width="19.40" height="19.40" fill="#f7fbff"/>
<rect x="902.60" y="974.00" width="19.40" height="19.40" fill="#f7fbff"/>
<rect x="921.70" y="974.00" width="19.40" height="19.40" fill="#f7fbff"/>
<rect x="788.00" y="993.10" width="19.40" height="19.40" fill="#f7fbff"/>
<rect x="807.10" y="993.10" width="19.40" height="19.40" fill="#eef5fc"/>
<rect x="826.20" y="993.10" width="19.40" height="19.40" fill="#c3daee"/>
<rect x="845.30" y="993.10" width="19.40" height="19.40" fill="#3181bd"/>
<rect x="864.40" y="993.10" width="19.40" height="19.40" fill="#eef5fc"/>
<rect x="883.50" y="993.10" width="19.40" height="19.40" fill="#f7fbff"/>
<rect x="902.60" y="993.10" width="19.40" height="19.40" fill="#f7fbff"/>
<rect x="921.70" y="993.10" width="19.40" height="19.40" fill="#f7fbff"/>
<rect x="788.00" y="1012.20" width="19.40" height="19.40" fill="#eaf3fb"/>
<rect x="807.10" y="1012.20" width="19.40" height="19.40" fill="#f7fbff"/>
<rect x="826.20" y="1012.20" width="19.40" height="19.40" fill="#b6d4e9"/>
<rect x="845.30" y="1012.20" width="19.40" height="19.40" fill="#a4cde3"/>
<rect x="864.40" y="1012.20" width="19.40" height="19.40" fill="#b6d4e9"/>
<rect x="883.50" y="1012.20" width="19.40" height="19.40" fill="#eaf3fb"/>
<rect x="902.60" y="1012.20" width="19.40" height="19.40" fill="#f7fbff"/>
<rect x="921.70" y="1012.20" width="19.40" height="19.40" fill="#f7fbff"/>
<rect x="788.00" y="1031.30" width="19.40" height="19.40" fill="#f7fbff"/>
<rect x="807.10" y="1031.30" width="19.40" height="19.40" fill="#f7fbff"/>
<rect x="826.20" y="1031.30" width="19.40" height="19.40" fill="#a4cde3"/>
<rect x="845.30" y="1031.30" width="19.40" height="19.40" fill="#cddff1"/>
<rect x="864.40" y="1031.30" width="19.40" height="19.40" fill="#dbe9f6"/>
<rect x="883.50" y="1031.30" width="19.40" height="19.40" fill="#b9d6ea"/>
<rect x="902.60" y="1031.30" width="19.40" height="19.40" fill="#f7fbff"/>
<rect x="921.70" y="1031.30" width="19.40" height="19.40" fill="#e8f1fa"/>
<rect x="788.00" y="1050.40" width="19.40" height="19.40" fill="#f7fbff"/>
<rect x="807.10" y="1050.40" width="19.40" height="19.40" fill="#f7fbff"/>
<rect x="826.20" y="1050.40" width="19.40" height="19.40" fill="#f7fbff"/>
<rect x="845.30" y="1050.40" width="19.40" height="19.40" fill="#cddff1"/>
<rect x="864.40" y="1050.40" width="19.40" height="19.40" fill="#f7fbff"/>
<rect x="883.50" y="1050.40" width="19.40" height="19.40" fill="#88bedc"/>
<rect x="902.60" y="1050.40" width="19.40" height="19.40" fill="#88bedc"/>
<rect x="921.70" y="1050.40" width="19.40" height="19.40" fill="#f7fbff"/>
<rect x="788.00" y="1069.50" width="19.40" height="19.40" fill="#f7fbff"/>
<rect x="807.10" y="1069.50" width="19.40" height="19.40" fill="#f7fbff"/>
<rect x="826.20" y="1069.50" width="19.40" height="19.40" fill="#ecf4fc"/>
<rect x="845.30" y="1069.50" width="19.40" height="19.40" fill="#f7fbff"/>
<rect x="864.40" y="1069.50" width="19.40" height="19.40" fill="#f7fbff"/>
<rect x="883.50" y="1069.50" width="19.40" height="19.40" fill="#ecf4fc"/>
<rect x="902.60" y="1069.50" width="19.40" height="19.40" fill="#a8cee4"/>
<rect x="921.70" y="1069.50" width="19.40" height="19.40" fill="#4090c5"/>
</g>
<text x="797.55" y="946.9499999999999" font-family='"Liberation Serif", "Times New Roman", serif' font-size="5.2" font-weight="normal" fill="#fff" text-anchor="middle">0.93</text>
<text x="816.65" y="946.9499999999999" font-family='"Liberation Serif", "Times New Roman", serif' font-size="5.2" font-weight="normal" fill="#222" text-anchor="middle">0.06</text>
<text x="835.75" y="946.9499999999999" font-family='"Liberation Serif", "Times New Roman", serif' font-size="5.2" font-weight="normal" fill="#222" text-anchor="middle">0.00</text>
<text x="854.85" y="946.9499999999999" font-family='"Liberation Serif", "Times New Roman", serif' font-size="5.2" font-weight="normal" fill="#222" text-anchor="middle">0.00</text>
<text x="873.95" y="946.9499999999999" font-family='"Liberation Serif", "Times New Roman", serif' font-size="5.2" font-weight="normal" fill="#222" text-anchor="middle">0.00</text>
<text x="893.05" y="946.9499999999999" font-family='"Liberation Serif", "Times New Roman", serif' font-size="5.2" font-weight="normal" fill="#222" text-anchor="middle">0.00</text>
<text x="912.15" y="946.9499999999999" font-family='"Liberation Serif", "Times New Roman", serif' font-size="5.2" font-weight="normal" fill="#222" text-anchor="middle">0.00</text>
<text x="931.25" y="946.9499999999999" font-family='"Liberation Serif", "Times New Roman", serif' font-size="5.2" font-weight="normal" fill="#222" text-anchor="middle">0.00</text>
<text x="797.55" y="966.05" font-family='"Liberation Serif", "Times New Roman", serif' font-size="5.2" font-weight="normal" fill="#222" text-anchor="middle">0.10</text>
<text x="816.65" y="966.05" font-family='"Liberation Serif", "Times New Roman", serif' font-size="5.2" font-weight="normal" fill="#fff" text-anchor="middle">0.82</text>
<text x="835.75" y="966.05" font-family='"Liberation Serif", "Times New Roman", serif' font-size="5.2" font-weight="normal" fill="#222" text-anchor="middle">0.07</text>
<text x="854.85" y="966.05" font-family='"Liberation Serif", "Times New Roman", serif' font-size="5.2" font-weight="normal" fill="#222" text-anchor="middle">0.01</text>
<text x="873.95" y="966.05" font-family='"Liberation Serif", "Times New Roman", serif' font-size="5.2" font-weight="normal" fill="#222" text-anchor="middle">0.00</text>
<text x="893.05" y="966.05" font-family='"Liberation Serif", "Times New Roman", serif' font-size="5.2" font-weight="normal" fill="#222" text-anchor="middle">0.00</text>
<text x="912.15" y="966.05" font-family='"Liberation Serif", "Times New Roman", serif' font-size="5.2" font-weight="normal" fill="#222" text-anchor="middle">0.00</text>
<text x="931.25" y="966.05" font-family='"Liberation Serif", "Times New Roman", serif' font-size="5.2" font-weight="normal" fill="#222" text-anchor="middle">0.00</text>
<text x="797.55" y="985.15" font-family='"Liberation Serif", "Times New Roman", serif' font-size="5.2" font-weight="normal" fill="#222" text-anchor="middle">0.01</text>
<text x="816.65" y="985.15" font-family='"Liberation Serif", "Times New Roman", serif' font-size="5.2" font-weight="normal" fill="#222" text-anchor="middle">0.13</text>
<text x="835.75" y="985.15" font-family='"Liberation Serif", "Times New Roman", serif' font-size="5.2" font-weight="normal" fill="#fff" text-anchor="middle">0.79</text>
<text x="854.85" y="985.15" font-family='"Liberation Serif", "Times New Roman", serif' font-size="5.2" font-weight="normal" fill="#222" text-anchor="middle">0.07</text>
<text x="873.95" y="985.15" font-family='"Liberation Serif", "Times New Roman", serif' font-size="5.2" font-weight="normal" fill="#222" text-anchor="middle">0.00</text>
<text x="893.05" y="985.15" font-family='"Liberation Serif", "Times New Roman", serif' font-size="5.2" font-weight="normal" fill="#222" text-anchor="middle">0.00</text>
<text x="912.15" y="985.15" font-family='"Liberation Serif", "Times New Roman", serif' font-size="5.2" font-weight="normal" fill="#222" text-anchor="middle">0.00</text>
<text x="931.25" y="985.15" font-family='"Liberation Serif", "Times New Roman", serif' font-size="5.2" font-weight="normal" fill="#222" text-anchor="middle">0.00</text>
<text x="797.55" y="1004.25" font-family='"Liberation Serif", "Times New Roman", serif' font-size="5.2" font-weight="normal" fill="#222" text-anchor="middle">0.00</text>
<text x="816.65" y="1004.25" font-family='"Liberation Serif", "Times New Roman", serif' font-size="5.2" font-weight="normal" fill="#222" text-anchor="middle">0.04</text>
<text x="835.75" y="1004.25" font-family='"Liberation Serif", "Times New Roman", serif' font-size="5.2" font-weight="normal" fill="#222" text-anchor="middle">0.24</text>
<text x="854.85" y="1004.25" font-family='"Liberation Serif", "Times New Roman", serif' font-size="5.2" font-weight="normal" fill="#fff" text-anchor="middle">0.64</text>
<text x="873.95" y="1004.25" font-family='"Liberation Serif", "Times New Roman", serif' font-size="5.2" font-weight="normal" fill="#222" text-anchor="middle">0.04</text>
<text x="893.05" y="1004.25" font-family='"Liberation Serif", "Times New Roman", serif' font-size="5.2" font-weight="normal" fill="#222" text-anchor="middle">0.00</text>
<text x="912.15" y="1004.25" font-family='"Liberation Serif", "Times New Roman", serif' font-size="5.2" font-weight="normal" fill="#222" text-anchor="middle">0.00</text>
<text x="931.25" y="1004.25" font-family='"Liberation Serif", "Times New Roman", serif' font-size="5.2" font-weight="normal" fill="#222" text-anchor="middle">0.00</text>
<text x="797.55" y="1023.35" font-family='"Liberation Serif", "Times New Roman", serif' font-size="5.2" font-weight="normal" fill="#222" text-anchor="middle">0.06</text>
<text x="816.65" y="1023.35" font-family='"Liberation Serif", "Times New Roman", serif' font-size="5.2" font-weight="normal" fill="#222" text-anchor="middle">0.00</text>
<text x="835.75" y="1023.35" font-family='"Liberation Serif", "Times New Roman", serif' font-size="5.2" font-weight="normal" fill="#222" text-anchor="middle">0.28</text>
<text x="854.85" y="1023.35" font-family='"Liberation Serif", "Times New Roman", serif' font-size="5.2" font-weight="normal" fill="#222" text-anchor="middle">0.33</text>
<text x="873.95" y="1023.35" font-family='"Liberation Serif", "Times New Roman", serif' font-size="5.2" font-weight="normal" fill="#222" text-anchor="middle">0.28</text>
<text x="893.05" y="1023.35" font-family='"Liberation Serif", "Times New Roman", serif' font-size="5.2" font-weight="normal" fill="#222" text-anchor="middle">0.06</text>
<text x="912.15" y="1023.35" font-family='"Liberation Serif", "Times New Roman", serif' font-size="5.2" font-weight="normal" fill="#222" text-anchor="middle">0.00</text>
<text x="931.25" y="1023.35" font-family='"Liberation Serif", "Times New Roman", serif' font-size="5.2" font-weight="normal" fill="#222" text-anchor="middle">0.00</text>
<text x="797.55" y="1042.4499999999998" font-family='"Liberation Serif", "Times New Roman", serif' font-size="5.2" font-weight="normal" fill="#222" text-anchor="middle">0.00</text>
<text x="816.65" y="1042.4499999999998" font-family='"Liberation Serif", "Times New Roman", serif' font-size="5.2" font-weight="normal" fill="#222" text-anchor="middle">0.00</text>
<text x="835.75" y="1042.4499999999998" font-family='"Liberation Serif", "Times New Roman", serif' font-size="5.2" font-weight="normal" fill="#222" text-anchor="middle">0.33</text>
<text x="854.85" y="1042.4499999999998" font-family='"Liberation Serif", "Times New Roman", serif' font-size="5.2" font-weight="normal" fill="#222" text-anchor="middle">0.20</text>
<text x="873.95" y="1042.4499999999998" font-family='"Liberation Serif", "Times New Roman", serif' font-size="5.2" font-weight="normal" fill="#222" text-anchor="middle">0.13</text>
<text x="893.05" y="1042.4499999999998" font-family='"Liberation Serif", "Times New Roman", serif' font-size="5.2" font-weight="normal" fill="#222" text-anchor="middle">0.27</text>
<text x="912.15" y="1042.4499999999998" font-family='"Liberation Serif", "Times New Roman", serif' font-size="5.2" font-weight="normal" fill="#222" text-anchor="middle">0.00</text>
<text x="931.25" y="1042.4499999999998" font-family='"Liberation Serif", "Times New Roman", serif' font-size="5.2" font-weight="normal" fill="#222" text-anchor="middle">0.07</text>
<text x="797.55" y="1061.55" font-family='"Liberation Serif", "Times New Roman", serif' font-size="5.2" font-weight="normal" fill="#222" text-anchor="middle">0.00</text>
<text x="816.65" y="1061.55" font-family='"Liberation Serif", "Times New Roman", serif' font-size="5.2" font-weight="normal" fill="#222" text-anchor="middle">0.00</text>
<text x="835.75" y="1061.55" font-family='"Liberation Serif", "Times New Roman", serif' font-size="5.2" font-weight="normal" fill="#222" text-anchor="middle">0.00</text>
<text x="854.85" y="1061.55" font-family='"Liberation Serif", "Times New Roman", serif' font-size="5.2" font-weight="normal" fill="#222" text-anchor="middle">0.20</text>
<text x="873.95" y="1061.55" font-family='"Liberation Serif", "Times New Roman", serif' font-size="5.2" font-weight="normal" fill="#222" text-anchor="middle">0.00</text>
<text x="893.05" y="1061.55" font-family='"Liberation Serif", "Times New Roman", serif' font-size="5.2" font-weight="normal" fill="#222" text-anchor="middle">0.40</text>
<text x="912.15" y="1061.55" font-family='"Liberation Serif", "Times New Roman", serif' font-size="5.2" font-weight="normal" fill="#222" text-anchor="middle">0.40</text>
<text x="931.25" y="1061.55" font-family='"Liberation Serif", "Times New Roman", serif' font-size="5.2" font-weight="normal" fill="#222" text-anchor="middle">0.00</text>
<text x="797.55" y="1080.6499999999999" font-family='"Liberation Serif", "Times New Roman", serif' font-size="5.2" font-weight="normal" fill="#222" text-anchor="middle">0.00</text>
<text x="816.65" y="1080.6499999999999" font-family='"Liberation Serif", "Times New Roman", serif' font-size="5.2" font-weight="normal" fill="#222" text-anchor="middle">0.00</text>
<text x="835.75" y="1080.6499999999999" font-family='"Liberation Serif", "Times New Roman", serif' font-size="5.2" font-weight="normal" fill="#222" text-anchor="middle">0.05</text>
<text x="854.85" y="1080.6499999999999" font-family='"Liberation Serif", "Times New Roman", serif' font-size="5.2" font-weight="normal" fill="#222" text-anchor="middle">0.00</text>
<text x="873.95" y="1080.6499999999999" font-family='"Liberation Serif", "Times New Roman", serif' font-size="5.2" font-weight="normal" fill="#222" text-anchor="middle">0.00</text>
<text x="893.05" y="1080.6499999999999" font-family='"Liberation Serif", "Times New Roman", serif' font-size="5.2" font-weight="normal" fill="#222" text-anchor="middle">0.05</text>
<text x="912.15" y="1080.6499999999999" font-family='"Liberation Serif", "Times New Roman", serif' font-size="5.2" font-weight="normal" fill="#222" text-anchor="middle">0.32</text>
<text x="931.25" y="1080.6499999999999" font-family='"Liberation Serif", "Times New Roman", serif' font-size="5.2" font-weight="normal" fill="#fff" text-anchor="middle">0.59</text>
<rect x="788" y="935.8" width="152.8" height="152.8" fill="none" stroke="#333" stroke-width="0.9"/>
<text x="784.5" y="947.05" font-family='"Liberation Serif", "Times New Roman", serif' font-size="5" font-weight="normal" fill="#222" text-anchor="end">1</text>
<line x1="786" y1="945.3" x2="788" y2="945.3" stroke="#333" stroke-width="0.6"/>
<text x="797.55" y="1095" font-family='"Liberation Serif", "Times New Roman", serif' font-size="5" font-weight="normal" fill="#222" text-anchor="middle">1</text>
<text x="784.5" y="966.15" font-family='"Liberation Serif", "Times New Roman", serif' font-size="5" font-weight="normal" fill="#222" text-anchor="end">2</text>
<line x1="786" y1="964.4" x2="788" y2="964.4" stroke="#333" stroke-width="0.6"/>
<text x="816.65" y="1095" font-family='"Liberation Serif", "Times New Roman", serif' font-size="5" font-weight="normal" fill="#222" text-anchor="middle">2</text>
<text x="784.5" y="985.25" font-family='"Liberation Serif", "Times New Roman", serif' font-size="5" font-weight="normal" fill="#222" text-anchor="end">3</text>
<line x1="786" y1="983.5" x2="788" y2="983.5" stroke="#333" stroke-width="0.6"/>
<text x="835.75" y="1095" font-family='"Liberation Serif", "Times New Roman", serif' font-size="5" font-weight="normal" fill="#222" text-anchor="middle">3</text>
<text x="784.5" y="1004.35" font-family='"Liberation Serif", "Times New Roman", serif' font-size="5" font-weight="normal" fill="#222" text-anchor="end">4</text>
<line x1="786" y1="1002.6" x2="788" y2="1002.6" stroke="#333" stroke-width="0.6"/>
<text x="854.85" y="1095" font-family='"Liberation Serif", "Times New Roman", serif' font-size="5" font-weight="normal" fill="#222" text-anchor="middle">4</text>
<text x="784.5" y="1023.45" font-family='"Liberation Serif", "Times New Roman", serif' font-size="5" font-weight="normal" fill="#222" text-anchor="end">5</text>
<line x1="786" y1="1021.8" x2="788" y2="1021.8" stroke="#333" stroke-width="0.6"/>
<text x="873.95" y="1095" font-family='"Liberation Serif", "Times New Roman", serif' font-size="5" font-weight="normal" fill="#222" text-anchor="middle">5</text>
<text x="784.5" y="1042.55" font-family='"Liberation Serif", "Times New Roman", serif' font-size="5" font-weight="normal" fill="#222" text-anchor="end">6</text>
<line x1="786" y1="1040.8" x2="788" y2="1040.8" stroke="#333" stroke-width="0.6"/>
<text x="893.05" y="1095" font-family='"Liberation Serif", "Times New Roman", serif' font-size="5" font-weight="normal" fill="#222" text-anchor="middle">6</text>
<text x="784.5" y="1061.65" font-family='"Liberation Serif", "Times New Roman", serif' font-size="5" font-weight="normal" fill="#222" text-anchor="end">7</text>
<line x1="786" y1="1060.0" x2="788" y2="1060.0" stroke="#333" stroke-width="0.6"/>
<text x="912.15" y="1095" font-family='"Liberation Serif", "Times New Roman", serif' font-size="5" font-weight="normal" fill="#222" text-anchor="middle">7</text>
<text x="784.5" y="1080.75" font-family='"Liberation Serif", "Times New Roman", serif' font-size="5" font-weight="normal" fill="#222" text-anchor="end">&gt;7</text>
<line x1="786" y1="1079.0" x2="788" y2="1079.0" stroke="#333" stroke-width="0.6"/>
<text x="931.25" y="1095" font-family='"Liberation Serif", "Times New Roman", serif' font-size="5" font-weight="normal" fill="#222" text-anchor="middle">&gt;7</text>
<text x="864.3" y="1102.6" font-family='"Liberation Serif", "Times New Roman", serif' font-size="5.2" font-weight="normal" fill="#111" text-anchor="middle">Predicted Value</text>
<text x="775.2" y="1012" font-family='"Liberation Serif", "Times New Roman", serif' font-size="5.2" fill="#111" text-anchor="middle" transform="rotate(-90 775.2 1012)">Ground Truth</text>
<rect x="1019.3" y="885" width="154.90" height="44.10" fill="#e1d5e7" stroke="#9673a6" stroke-width="1"/>
<text x="1096.75" y="902.7" font-family='"Liberation Serif", "Times New Roman", serif' font-size="16.6" font-weight="bold" fill="#000" text-anchor="middle">Object</text>
<text x="1096.75" y="923" font-family='"Liberation Serif", "Times New Roman", serif' font-size="16.6" font-weight="bold" fill="#000" text-anchor="middle">Localization</text>
<circle cx="1091.5" cy="1014.5" r="74" fill="#fff" stroke="#333" stroke-width="0.8"/>
<circle cx="1091.5" cy="1014.5" r="15" fill="none" stroke="#d4d4d4" stroke-width="0.5"/>
<circle cx="1091.5" cy="1014.5" r="29.5" fill="none" stroke="#d4d4d4" stroke-width="0.5"/>
<circle cx="1091.5" cy="1014.5" r="44" fill="none" stroke="#d4d4d4" stroke-width="0.5"/>
<circle cx="1091.5" cy="1014.5" r="59" fill="none" stroke="#d4d4d4" stroke-width="0.5"/>
<line x1="1091.5" y1="1014.5" x2="1091.5" y2="940.5" stroke="#d4d4d4" stroke-width="0.5"/>
<line x1="1091.5" y1="1014.5" x2="1139.1" y2="957.8" stroke="#d4d4d4" stroke-width="0.5"/>
<line x1="1091.5" y1="1014.5" x2="1164.4" y2="1001.7" stroke="#d4d4d4" stroke-width="0.5"/>
<line x1="1091.5" y1="1014.5" x2="1155.6" y2="1051.5" stroke="#d4d4d4" stroke-width="0.5"/>
<line x1="1091.5" y1="1014.5" x2="1116.8" y2="1084.0" stroke="#d4d4d4" stroke-width="0.5"/>
<line x1="1091.5" y1="1014.5" x2="1066.2" y2="1084.0" stroke="#d4d4d4" stroke-width="0.5"/>
<line x1="1091.5" y1="1014.5" x2="1027.4" y2="1051.5" stroke="#d4d4d4" stroke-width="0.5"/>
<line x1="1091.5" y1="1014.5" x2="1018.6" y2="1001.7" stroke="#d4d4d4" stroke-width="0.5"/>
<line x1="1091.5" y1="1014.5" x2="1043.9" y2="957.8" stroke="#d4d4d4" stroke-width="0.5"/>
<polygon points="1091.5,947.2 1136.9,960.4 1157.5,1002.9 1153.4,1050.2 1115.2,1079.6 1066.6,1082.8 1034.2,1047.6 1022.0,1002.2 1050.4,965.5" fill="#b9a9a9" fill-opacity="0.55" stroke="#f07f3c" stroke-width="0.9" stroke-dasharray="4 2"/>
<circle cx="1091.5" cy="947.2" r="1.2" fill="#f07f3c"/>
<circle cx="1136.9" cy="960.4" r="1.2" fill="#f07f3c"/>
<circle cx="1157.5" cy="1002.9" r="1.2" fill="#f07f3c"/>
<circle cx="1153.4" cy="1050.2" r="1.2" fill="#f07f3c"/>
<circle cx="1115.2" cy="1079.6" r="1.2" fill="#f07f3c"/>
<circle cx="1066.6" cy="1082.8" r="1.2" fill="#f07f3c"/>
<circle cx="1034.2" cy="1047.6" r="1.2" fill="#f07f3c"/>
<circle cx="1022.0" cy="1002.2" r="1.2" fill="#f07f3c"/>
<circle cx="1050.4" cy="965.5" r="1.2" fill="#f07f3c"/>
<polygon points="1091.5,948.2 1137.5,959.7 1159.5,1002.5 1154.1,1050.7 1115.4,1080.3 1067.4,1080.7 1034.8,1047.2 1026.0,1003.0 1049.1,963.9" fill="#b5b5bd" fill-opacity="0.35" stroke="#3a8fd0" stroke-width="0.9"/>
<circle cx="1091.5" cy="948.2" r="1.2" fill="#3a8fd0"/>
<circle cx="1137.5" cy="959.7" r="1.2" fill="#3a8fd0"/>
<circle cx="1159.5" cy="1002.5" r="1.2" fill="#3a8fd0"/>
<circle cx="1154.1" cy="1050.7" r="1.2" fill="#3a8fd0"/>
<circle cx="1115.4" cy="1080.3" r="1.2" fill="#3a8fd0"/>
<circle cx="1067.4" cy="1080.7" r="1.2" fill="#3a8fd0"/>
<circle cx="1034.8" cy="1047.2" r="1.2" fill="#3a8fd0"/>
<circle cx="1026.0" cy="1003.0" r="1.2" fill="#3a8fd0"/>
<circle cx="1049.1" cy="963.9" r="1.2" fill="#3a8fd0"/>
<polygon points="1091.5,953.5 1135.2,962.4 1154.2,1003.4 1149.1,1047.8 1113.9,1076.1 1067.0,1081.9 1034.3,1047.5 1026.5,1003.0 1056.3,972.5" fill="#8fbf7f" fill-opacity="0.55" stroke="#2ca02c" stroke-width="0.9" stroke-dasharray="3 1.5"/>
<circle cx="1091.5" cy="953.5" r="1.2" fill="#2ca02c"/>
<circle cx="1135.2" cy="962.4" r="1.2" fill="#2ca02c"/>
<circle cx="1154.2" cy="1003.4" r="1.2" fill="#2ca02c"/>
<circle cx="1149.1" cy="1047.8" r="1.2" fill="#2ca02c"/>
<circle cx="1113.9" cy="1076.1" r="1.2" fill="#2ca02c"/>
<circle cx="1067.0" cy="1081.9" r="1.2" fill="#2ca02c"/>
<circle cx="1034.3" cy="1047.5" r="1.2" fill="#2ca02c"/>
<circle cx="1026.5" cy="1003.0" r="1.2" fill="#2ca02c"/>
<circle cx="1056.3" cy="972.5" r="1.2" fill="#2ca02c"/>
<polygon points="1091.5,960.5 1096.0,1009.1 1099.4,1013.1 1096.7,1017.5 1097.0,1029.5 1089.8,1019.2 1084.6,1018.5 1084.6,1013.3 1087.0,1009.1" fill="#b9a0d8" fill-opacity="0.45" stroke="#9467bd" stroke-width="0.9" stroke-dasharray="3 1.5"/>
<polygon points="1091.5,1007.5 1096.6,1008.4 1100.4,1012.9 1097.6,1018.0 1108.5,1061.3 1089.4,1020.1 1083.7,1019.0 1083.6,1013.1 1087.6,1009.9" fill="#8a8a8a" fill-opacity="0.5" stroke="#6e6e6e" stroke-width="0.8" stroke-dasharray="2 1.2"/>
<text x="1091" y="936.5" font-family='"Liberation Sans", Arial, sans-serif' font-size="4.6" font-weight="normal" fill="#222" text-anchor="middle">Top</text>
<text x="1144" y="953.5" font-family='"Liberation Sans", Arial, sans-serif' font-size="4.6" font-weight="normal" fill="#222" text-anchor="middle">Top-Right</text>
<text x="1172" y="1002" font-family='"Liberation Sans", Arial, sans-serif' font-size="4.6" font-weight="normal" fill="#222" text-anchor="middle">Right</text>
<text x="1168" y="1060.5" font-family='"Liberation Sans", Arial, sans-serif' font-size="4.6" font-weight="normal" fill="#222" text-anchor="middle">Bottom-Right</text>
<text x="1119" y="1092.5" font-family='"Liberation Sans", Arial, sans-serif' font-size="4.6" font-weight="normal" fill="#222" text-anchor="middle">Bottom</text>
<text x="1064" y="1092.5" font-family='"Liberation Sans", Arial, sans-serif' font-size="4.6" font-weight="normal" fill="#222" text-anchor="middle">Bottom-Left</text>
<text x="1020" y="1056.5" font-family='"Liberation Sans", Arial, sans-serif' font-size="4.6" font-weight="normal" fill="#222" text-anchor="middle">Left</text>
<text x="1008" y="1001" font-family='"Liberation Sans", Arial, sans-serif' font-size="4.6" font-weight="normal" fill="#222" text-anchor="middle">Top-Left</text>
<text x="1038" y="953.5" font-family='"Liberation Sans", Arial, sans-serif' font-size="4.6" font-weight="normal" fill="#222" text-anchor="middle">Center</text>
<text x="1098" y="1000" font-family='"Liberation Sans", Arial, sans-serif' font-size="3.8" font-weight="normal" fill="#555" text-anchor="middle">0.2</text>
<text x="1104" y="986" font-family='"Liberation Sans", Arial, sans-serif' font-size="3.8" font-weight="normal" fill="#555" text-anchor="middle">0.4</text>
<text x="1110" y="973" font-family='"Liberation Sans", Arial, sans-serif' font-size="3.8" font-weight="normal" fill="#555" text-anchor="middle">0.6</text>
<text x="1116" y="959" font-family='"Liberation Sans", Arial, sans-serif' font-size="3.8" font-weight="normal" fill="#555" text-anchor="middle">0.8</text>
<text x="1122" y="946" font-family='"Liberation Sans", Arial, sans-serif' font-size="3.8" font-weight="normal" fill="#555" text-anchor="middle">1.0</text>
<rect x="1143.4" y="1071.9" width="53" height="29.3" rx="1" fill="#fff" stroke="#d0d0d0" stroke-width="0.6"/>
<line x1="1145.5" y1="1075.60" x2="1153" y2="1075.60" stroke="#f07f3c" stroke-width="0.8"/>
<circle cx="1149.2" cy="1075.60" r="0.9" fill="#f07f3c"/>
<text x="1155" y="1077.0" font-family='"Liberation Sans", Arial, sans-serif' font-size="4" font-weight="normal" fill="#111" text-anchor="start">SARCLIP (ViT-L/14)</text>
<line x1="1145.5" y1="1081.10" x2="1153" y2="1081.10" stroke="#3a8fd0" stroke-width="0.8"/>
<circle cx="1149.2" cy="1081.10" r="0.9" fill="#3a8fd0"/>
<text x="1155" y="1082.5" font-family='"Liberation Sans", Arial, sans-serif' font-size="4" font-weight="normal" fill="#111" text-anchor="start">SARCLIP (ViT-B/32)</text>
<line x1="1145.5" y1="1086.60" x2="1153" y2="1086.60" stroke="#2ca02c" stroke-width="0.8"/>
<circle cx="1149.2" cy="1086.60" r="0.9" fill="#2ca02c"/>
<text x="1155" y="1088.0" font-family='"Liberation Sans", Arial, sans-serif' font-size="4" font-weight="normal" fill="#111" text-anchor="start">SARCLIP (ResNet-50)</text>
<line x1="1145.5" y1="1092.10" x2="1153" y2="1092.10" stroke="#9467bd" stroke-width="0.8"/>
<circle cx="1149.2" cy="1092.10" r="0.9" fill="#9467bd"/>
<text x="1155" y="1093.5" font-family='"Liberation Sans", Arial, sans-serif' font-size="4" font-weight="normal" fill="#111" text-anchor="start">RemoteCLIP (ViT-L/14)</text>
<line x1="1145.5" y1="1097.60" x2="1153" y2="1097.60" stroke="#6e6e6e" stroke-width="0.8"/>
<circle cx="1149.2" cy="1097.60" r="0.9" fill="#6e6e6e"/>
<text x="1155" y="1099.0" font-family='"Liberation Sans", Arial, sans-serif' font-size="4" font-weight="normal" fill="#111" text-anchor="start">CLIP (ViT-L/14)</text>
</svg>
</body></html>
